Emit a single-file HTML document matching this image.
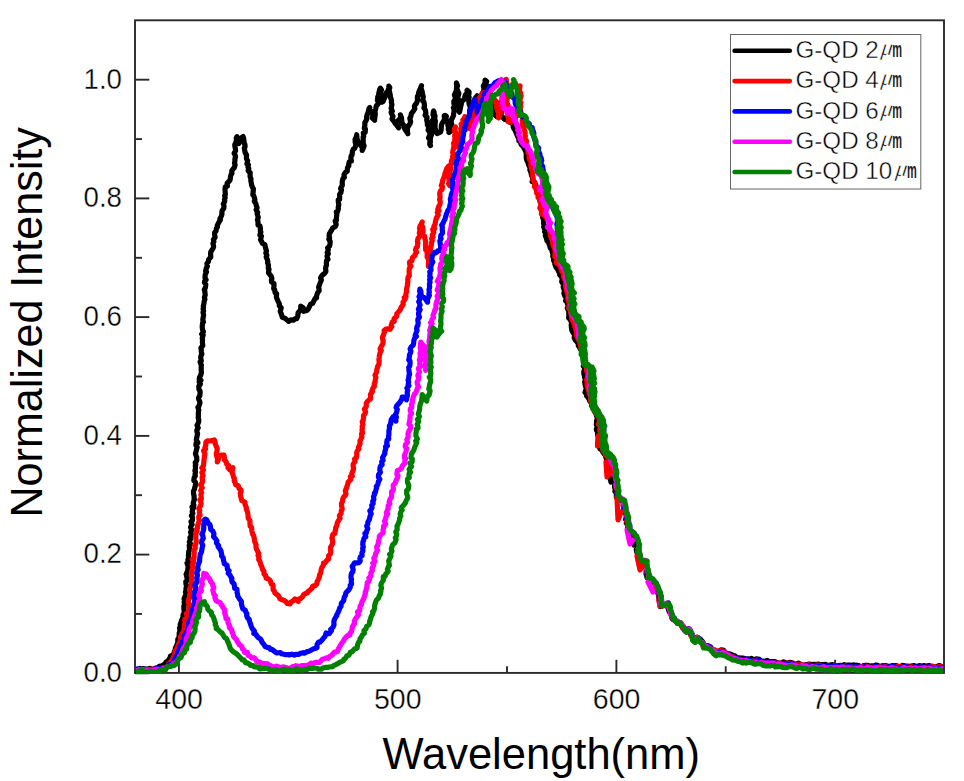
<!DOCTYPE html>
<html><head><meta charset="utf-8"><style>
html,body{margin:0;padding:0;background:#fff;}
svg{display:block;font-family:"Liberation Sans",sans-serif;}
</style></head><body>
<svg width="964" height="781" viewBox="0 0 964 781">
<rect width="964" height="781" fill="#fff"/>
<rect x="135" y="20.3" width="809" height="652.6" fill="none" stroke="#2a2a2a" stroke-width="1.9"/>
<line x1="135" y1="673.3" x2="149.3" y2="673.3" stroke="#2a2a2a" stroke-width="1.9"/>
<line x1="135" y1="554.6" x2="149.3" y2="554.6" stroke="#2a2a2a" stroke-width="1.9"/>
<line x1="135" y1="435.9" x2="149.3" y2="435.9" stroke="#2a2a2a" stroke-width="1.9"/>
<line x1="135" y1="317.1" x2="149.3" y2="317.1" stroke="#2a2a2a" stroke-width="1.9"/>
<line x1="135" y1="198.4" x2="149.3" y2="198.4" stroke="#2a2a2a" stroke-width="1.9"/>
<line x1="135" y1="79.7" x2="149.3" y2="79.7" stroke="#2a2a2a" stroke-width="1.9"/>
<line x1="135" y1="613.9" x2="142" y2="613.9" stroke="#2a2a2a" stroke-width="1.9"/>
<line x1="135" y1="495.2" x2="142" y2="495.2" stroke="#2a2a2a" stroke-width="1.9"/>
<line x1="135" y1="376.5" x2="142" y2="376.5" stroke="#2a2a2a" stroke-width="1.9"/>
<line x1="135" y1="257.8" x2="142" y2="257.8" stroke="#2a2a2a" stroke-width="1.9"/>
<line x1="135" y1="139.1" x2="142" y2="139.1" stroke="#2a2a2a" stroke-width="1.9"/>
<line x1="178.9" y1="672.9" x2="178.9" y2="659.8" stroke="#2a2a2a" stroke-width="1.9"/>
<line x1="397.6" y1="672.9" x2="397.6" y2="659.8" stroke="#2a2a2a" stroke-width="1.9"/>
<line x1="616.4" y1="672.9" x2="616.4" y2="659.8" stroke="#2a2a2a" stroke-width="1.9"/>
<line x1="835.1" y1="672.9" x2="835.1" y2="659.8" stroke="#2a2a2a" stroke-width="1.9"/>
<line x1="288.3" y1="672.9" x2="288.3" y2="666.3" stroke="#2a2a2a" stroke-width="1.9"/>
<line x1="507.0" y1="672.9" x2="507.0" y2="666.3" stroke="#2a2a2a" stroke-width="1.9"/>
<line x1="725.7" y1="672.9" x2="725.7" y2="666.3" stroke="#2a2a2a" stroke-width="1.9"/>
<clipPath id="pc"><rect x="136" y="15" width="807" height="659"/></clipPath>
<g clip-path="url(#pc)">
<polyline points="134.5,669.7 136.8,669.7 139.4,668.5 140.3,670.0 142.9,668.7 146.4,669.1 148.2,669.0 149.9,668.3 152.0,669.6 153.9,669.3 156.3,667.8 158.5,668.8 159.3,666.2 162.1,665.7 163.4,665.1 165.1,663.7 166.1,662.0 167.9,660.9 170.3,657.5 170.3,656.1 173.4,654.9 174.2,652.1 175.3,649.7 175.4,648.0 176.3,646.6 177.0,644.6 177.8,642.7 177.8,639.0 178.6,638.6 179.2,635.8 179.2,633.0 180.0,631.3 179.5,627.9 181.2,627.4 180.2,624.6 181.3,621.3 181.5,620.5 183.1,617.0 183.0,615.0 183.7,613.5 184.5,612.8 184.0,610.4 183.8,606.2 184.6,603.8 184.1,602.2 185.1,599.3 184.1,598.7 184.8,596.9 186.2,593.8 185.5,592.0 186.0,590.2 186.0,588.2 186.9,586.0 186.0,584.4 185.8,581.6 187.5,580.0 186.8,577.0 186.7,576.2 186.1,574.2 187.5,571.1 187.7,569.9 188.0,567.7 188.2,566.5 187.0,563.1 188.5,562.9 187.9,559.9 188.7,557.6 188.4,555.6 188.6,554.2 188.7,551.8 189.8,549.1 189.5,548.5 189.2,545.4 190.4,543.5 189.3,541.9 190.5,539.2 189.9,537.7 191.1,535.9 191.3,533.3 190.5,532.3 191.7,529.9 190.6,527.2 191.4,525.4 192.1,524.7 191.0,521.6 192.4,520.3 192.6,517.7 191.4,515.6 192.9,513.5 192.2,511.8 192.5,509.8 193.7,507.3 192.0,506.9 193.9,505.0 193.2,502.9 194.4,499.4 194.1,498.7 194.1,496.0 193.5,493.7 193.5,491.1 194.3,489.6 194.9,487.1 195.2,486.4 195.4,484.8 195.4,482.2 193.8,480.5 194.2,477.6 195.3,476.0 195.0,474.9 195.5,471.7 194.9,470.7 195.5,468.6 195.3,465.4 195.8,464.6 195.2,462.6 196.8,460.6 196.7,457.0 196.4,456.7 195.4,453.5 196.0,452.1 196.4,449.9 197.2,447.0 195.9,445.3 196.1,443.1 197.9,442.7 196.3,440.0 196.8,437.6 197.0,436.3 197.6,433.7 196.9,431.7 196.9,430.1 198.2,427.8 197.0,425.4 197.7,424.2 198.7,421.7 198.8,420.1 198.2,417.6 198.4,416.2 198.3,414.1 198.5,411.2 198.8,410.0 197.9,407.4 198.8,406.3 199.9,403.2 199.9,402.0 198.7,399.3 198.5,397.9 199.7,396.0 200.1,393.5 200.1,391.2 198.9,389.2 198.8,386.3 200.4,384.0 199.2,382.1 200.9,380.2 199.2,379.5 199.5,377.4 200.7,375.3 201.4,372.8 201.2,369.6 201.2,368.5 201.2,365.7 201.4,365.3 200.1,362.0 201.3,360.9 200.7,357.6 200.8,356.4 201.9,353.9 201.3,351.9 201.3,349.9 200.9,348.0 202.8,345.7 202.5,343.2 202.4,342.3 202.5,339.8 202.2,338.0 203.2,335.0 201.7,334.1 203.4,331.6 202.6,329.9 202.2,327.0 202.3,325.6 202.6,322.8 203.5,322.2 202.8,319.7 203.1,318.0 203.6,314.8 203.0,312.3 203.6,311.0 203.1,308.9 203.5,307.8 203.3,306.2 204.0,303.4 204.1,301.8 204.9,299.3 204.4,297.6 205.2,294.9 205.1,294.0 204.7,290.6 204.3,289.5 205.3,288.0 205.8,284.5 204.5,282.6 204.6,281.4 206.1,279.8 205.0,277.7 205.2,274.8 206.5,271.9 205.6,271.2 206.4,268.0 207.4,266.4 206.9,263.5 208.4,261.6 208.6,259.6 210.8,257.0 210.6,254.2 210.6,253.4 210.8,251.9 213.0,248.3 213.6,246.9 213.5,245.7 212.9,243.4 213.9,241.6 213.4,239.5 215.1,237.3 214.5,234.1 214.7,232.5 216.0,231.1 216.5,228.1 217.5,226.9 217.3,225.4 219.1,221.8 220.4,219.8 219.9,218.9 221.1,216.6 221.9,214.3 221.9,211.7 222.1,210.7 223.8,208.3 224.0,205.9 223.3,203.9 224.8,201.2 224.4,199.5 225.2,197.7 224.6,195.7 225.3,194.4 225.2,192.5 225.0,189.3 225.2,186.9 227.4,186.1 227.1,183.0 228.4,182.0 230.1,180.0 230.5,176.7 231.0,174.8 231.9,173.5 231.8,170.8 233.6,168.3 234.2,167.9 235.1,164.9 234.5,163.2 234.8,162.0 235.0,158.5 235.5,156.9 235.2,155.3 234.1,153.3 235.6,150.7 235.4,148.6 234.9,146.7 234.8,144.6 236.1,142.4 236.1,141.4 236.9,137.7 236.9,136.6 236.2,138.2 237.4,139.7 238.8,143.5 239.6,141.3 241.6,137.7 243.1,136.6 243.7,138.9 243.8,140.2 244.3,143.4 244.9,144.5 245.1,146.7 244.3,147.8 244.7,150.2 245.2,152.8 246.6,155.0 246.4,157.2 246.5,158.9 247.7,160.8 246.9,163.9 248.4,164.8 248.0,167.2 248.8,168.6 248.1,170.7 250.2,172.6 250.1,174.7 250.1,176.7 251.0,178.8 250.8,180.7 251.4,183.5 251.5,184.7 252.6,187.5 253.4,188.8 253.2,191.6 252.8,194.8 253.5,195.1 254.3,197.3 254.9,199.7 254.3,201.2 255.9,203.7 256.4,206.1 257.1,207.8 256.1,209.8 257.7,212.6 257.1,213.5 258.2,217.3 258.3,217.5 257.4,219.7 258.0,221.6 258.0,224.9 260.0,226.1 260.4,228.7 260.4,231.6 260.9,231.9 259.9,235.1 261.5,236.1 260.5,239.7 261.2,240.8 262.6,243.5 264.8,244.5 265.5,247.7 266.0,249.4 266.5,251.1 265.8,252.9 266.9,255.4 266.2,256.9 267.4,259.8 267.8,261.4 267.6,263.0 268.4,264.8 268.3,268.4 269.0,269.1 268.5,272.7 270.0,274.8 271.1,276.0 271.9,278.6 271.4,280.0 271.6,282.1 274.0,283.5 274.0,285.6 273.7,288.7 274.7,289.6 275.1,292.8 276.6,293.5 276.4,297.5 277.0,298.7 278.0,301.1 279.0,303.1 279.4,303.9 279.3,305.7 281.2,307.8 280.2,311.5 281.1,313.4 281.5,314.5 282.3,317.3 285.2,318.4 287.5,320.4 288.7,321.4 290.8,319.8 293.5,320.1 295.4,318.7 296.8,318.6 297.9,315.8 297.9,314.6 298.1,312.7 300.2,310.4 300.8,308.7 300.7,306.2 303.3,308.0 303.2,309.3 303.8,311.3 306.8,310.5 308.2,309.1 309.2,307.1 310.6,304.1 312.7,303.3 314.0,300.7 314.9,298.7 316.6,297.9 316.5,296.2 317.6,292.7 319.1,290.9 319.1,289.4 318.6,287.4 319.5,284.6 320.1,283.1 321.4,280.0 320.5,277.8 322.0,275.5 322.4,275.0 324.5,273.6 325.9,271.6 325.6,268.3 325.8,266.9 326.5,265.0 326.4,263.6 326.5,260.7 328.0,259.4 327.0,256.2 328.3,253.7 327.2,252.7 328.3,249.9 327.6,247.9 329.3,246.4 329.9,245.0 330.2,241.4 328.8,239.3 329.6,237.9 329.1,236.3 329.4,233.8 330.0,232.7 331.9,229.6 332.7,227.9 335.4,226.4 336.2,224.5 335.2,221.0 336.5,220.1 336.4,218.1 336.8,214.8 336.3,212.1 337.6,211.7 338.4,208.7 338.2,207.5 338.8,204.7 338.4,202.5 338.2,199.9 339.6,199.5 339.7,196.3 339.6,194.5 340.9,192.5 341.5,189.9 340.6,188.6 341.1,187.3 342.3,185.4 342.2,181.7 342.4,180.7 343.1,178.1 344.4,177.3 344.0,174.8 345.3,172.5 347.2,171.3 347.5,167.7 348.9,165.6 348.6,164.9 349.3,161.7 351.4,161.0 350.8,157.9 351.4,155.3 352.1,155.0 352.4,151.4 353.3,149.1 354.7,148.4 355.6,146.1 355.9,142.8 355.2,142.7 355.1,139.2 356.2,137.2 356.7,134.7 357.0,138.6 357.7,140.5 358.6,142.7 360.5,144.1 360.3,144.9 362.4,147.2 362.2,150.5 363.7,146.9 364.1,145.9 363.1,143.0 363.2,142.7 363.2,138.9 363.1,136.9 363.7,136.4 363.3,132.9 365.2,132.4 365.4,128.9 364.3,128.3 364.8,125.7 364.9,122.3 365.4,121.7 366.7,119.3 366.6,117.2 367.0,115.1 368.2,112.4 368.2,111.9 369.1,108.3 369.8,107.6 369.1,108.5 370.0,110.1 372.4,112.9 373.0,114.3 372.2,117.9 374.6,120.2 374.8,117.3 375.3,114.4 375.2,113.1 374.8,111.5 375.6,109.3 376.1,106.9 376.4,105.5 378.1,104.2 378.2,102.0 377.4,100.3 377.8,96.6 378.7,95.8 378.7,93.7 379.0,92.3 379.7,89.3 380.3,88.1 381.5,89.7 380.7,92.0 380.2,93.9 382.0,96.8 380.7,99.1 381.7,101.6 381.9,102.2 383.2,101.5 383.9,99.4 385.3,96.4 385.4,94.6 386.5,92.3 387.9,91.3 388.7,87.7 388.8,86.1 389.8,87.7 389.0,90.1 389.5,91.6 390.3,95.4 390.4,97.1 391.2,99.4 391.6,100.6 391.3,102.0 391.9,104.6 391.3,107.7 391.1,108.3 392.4,111.2 391.1,112.1 391.8,114.1 393.0,116.5 392.0,119.0 393.8,121.1 395.3,123.6 396.2,124.5 398.6,127.8 397.3,125.2 399.1,124.3 398.3,120.3 399.6,119.0 401.0,117.8 400.4,114.9 401.5,117.9 401.5,119.0 401.9,121.5 402.5,124.1 404.1,125.5 403.9,126.8 405.4,130.1 406.2,131.0 407.8,133.8 407.4,130.9 407.4,130.2 407.6,127.4 409.1,125.0 409.9,124.1 410.6,121.7 409.8,118.3 410.8,116.7 410.9,115.8 411.4,113.6 413.9,110.2 414.8,108.7 414.4,106.2 415.1,104.8 416.3,103.6 417.7,100.0 417.4,98.8 417.4,96.5 418.1,95.5 418.8,92.4 419.1,91.1 420.3,88.8 421.1,86.8 421.5,85.6 420.9,88.1 421.6,89.8 422.3,92.1 422.3,93.1 423.3,96.9 423.0,98.5 422.8,101.2 424.0,102.0 424.5,105.7 423.9,107.9 424.6,108.3 425.5,110.7 425.9,113.2 425.1,115.2 427.0,117.1 426.7,119.9 427.0,121.2 427.6,123.9 427.3,124.5 428.8,127.5 428.1,130.2 429.5,131.6 430.0,134.2 429.7,135.2 428.5,138.0 430.2,139.4 429.9,141.8 429.7,144.2 430.5,145.6 429.8,143.9 430.4,142.2 430.3,139.4 430.5,137.4 431.5,134.8 430.6,133.5 431.1,131.5 431.2,128.6 432.1,128.2 433.0,125.4 432.2,122.4 432.1,120.9 433.7,118.4 433.8,117.1 433.0,114.6 434.2,112.4 433.6,111.0 433.2,112.5 435.0,115.7 434.8,117.9 433.8,119.6 435.4,120.7 435.1,124.2 435.1,125.8 435.0,127.7 435.5,129.4 436.0,132.2 437.0,133.5 440.4,132.1 441.2,129.8 441.2,128.5 441.4,125.5 441.6,124.7 442.2,123.0 443.3,121.5 444.6,119.1 444.2,115.8 445.1,115.3 446.4,116.3 445.4,119.9 447.1,121.0 447.7,122.4 447.9,125.5 448.5,126.5 448.2,129.5 450.2,130.6 449.0,132.6 450.9,131.0 450.6,130.1 451.2,126.5 451.7,123.8 451.2,123.1 451.4,119.6 452.4,118.0 453.6,115.4 453.6,113.9 454.0,111.8 454.0,109.5 453.4,107.7 454.8,105.5 453.9,103.6 453.8,101.4 455.0,99.9 455.3,97.3 454.4,94.8 455.3,93.1 456.0,91.3 456.6,89.9 456.6,88.2 456.6,85.6 456.4,82.8 457.6,85.7 456.4,88.6 457.6,90.1 457.6,91.1 458.9,93.3 457.9,97.0 457.6,98.0 458.5,99.5 459.6,101.9 458.0,104.1 458.2,106.6 460.2,109.0 458.8,110.6 459.5,112.2 460.0,109.9 460.2,108.5 460.6,107.1 461.1,105.0 461.9,101.2 463.5,100.1 464.5,98.0 465.3,95.1 466.3,94.0 467.9,90.9 467.1,90.3 469.1,91.8 468.9,94.1 468.5,95.9 469.1,97.1 468.7,100.6 468.9,102.1 469.1,103.9 470.1,106.7 471.0,108.2 469.7,109.9 469.6,111.8 471.4,110.5 471.5,107.6 472.0,105.6 473.6,103.7 475.1,102.3 474.8,100.0 475.0,98.6 477.2,95.8 478.0,97.6 477.8,99.5 478.6,102.2 480.3,104.5 479.7,102.5 480.9,99.6 481.4,97.7 481.2,95.6 482.5,94.1 483.5,91.0 483.9,90.2 484.0,88.5 483.3,86.0 485.3,82.7 485.1,82.3 485.0,80.0 486.6,81.5 485.5,83.5 487.2,86.2 486.6,88.6 488.2,90.6 486.9,94.1 488.1,95.1 490.0,97.0 488.8,100.3 489.7,101.1 491.7,103.2 492.2,105.6 491.6,107.4 492.9,110.0 493.4,111.7 494.0,114.3 496.1,115.9 496.6,116.4 496.3,114.4 496.8,113.6 499.1,111.2 499.1,107.2 499.7,109.1 501.4,111.5 501.0,114.9 501.6,116.8 503.4,117.7 504.5,119.5 506.6,119.7 508.7,121.5 509.4,121.9 511.6,123.0 513.7,125.0 513.2,126.8 513.9,128.6 515.5,130.7 515.9,132.3 517.1,135.1 517.8,136.9 518.7,137.5 518.9,140.8 520.3,141.7 521.2,144.5 522.2,145.6 523.3,146.9 524.9,149.9 526.0,151.9 526.3,154.4 526.2,157.0 526.4,158.7 527.0,160.6 527.5,161.2 528.6,164.8 529.7,167.0 530.5,167.5 529.8,169.7 531.0,172.5 531.5,175.3 532.5,177.2 532.8,179.1 532.1,181.6 533.1,181.9 535.5,184.1 536.1,185.5 536.1,188.7 536.7,190.2 539.5,191.4 539.4,194.6 539.6,196.7 540.2,197.3 539.6,200.4 541.5,201.9 541.2,203.8 542.1,206.5 541.8,209.0 541.5,211.2 543.2,213.6 542.6,214.4 542.7,217.8 543.4,218.9 543.7,221.7 543.5,223.1 544.5,226.1 543.7,226.9 545.1,230.3 544.6,231.8 546.1,233.9 545.3,235.2 546.3,238.2 547.1,240.9 548.4,241.9 549.1,244.2 549.8,246.0 550.3,248.0 551.7,249.4 552.2,251.8 552.9,253.5 552.8,256.5 553.8,258.2 553.5,260.3 555.1,263.2 554.9,264.4 556.3,267.9 557.7,269.1 558.4,271.3 560.4,273.3 559.7,274.9 561.2,276.2 562.2,278.9 561.7,281.6 562.8,283.5 563.8,285.7 563.2,286.9 564.1,289.6 564.6,291.7 563.9,293.2 564.6,295.4 566.4,298.4 565.6,300.8 566.8,301.6 567.5,304.0 568.4,305.9 567.3,308.2 568.9,311.5 568.7,312.2 568.9,315.4 568.6,317.9 570.7,320.0 571.0,321.5 572.0,322.9 571.2,324.7 571.5,328.1 571.8,330.1 572.9,332.5 574.2,334.2 574.9,335.0 574.2,337.7 575.5,340.2 577.4,342.3 578.5,344.1 578.3,345.6 580.0,348.1 580.2,349.0 581.7,350.7 583.2,352.1 583.7,355.0 582.9,357.2 583.6,360.0 584.5,361.3 584.6,364.0 583.3,365.9 584.8,368.3 584.8,369.2 583.8,371.8 583.9,374.0 584.8,376.2 584.5,377.2 585.7,380.0 584.7,381.8 585.0,384.1 585.3,385.4 586.3,388.7 586.0,389.5 585.0,392.5 587.1,394.2 586.7,396.1 588.1,397.3 589.1,399.3 590.1,401.7 591.6,402.3 591.6,405.8 592.6,406.9 593.8,407.7 594.5,410.7 594.9,411.9 595.8,413.4 596.5,415.5 597.4,418.6 596.6,420.6 596.6,422.1 596.3,424.8 597.7,426.7 596.4,428.8 596.5,430.4 597.5,431.4 597.6,435.1 598.1,436.0 598.6,438.1 599.0,440.2 597.5,443.4 597.6,444.0 599.1,445.7 599.9,448.8 601.2,449.4 602.8,451.9 603.7,453.1 604.4,454.2 607.0,456.9 605.9,457.4 607.2,460.6 608.0,461.3 610.0,463.3 611.2,465.9 611.9,468.6 611.4,470.6 612.2,471.5 611.9,474.6 613.3,475.9 614.2,477.8 613.9,479.7 614.1,483.4 614.7,484.0 614.6,487.1 615.1,489.7 615.0,491.7 616.6,493.7 616.4,494.3 616.4,497.6 618.7,498.2 622.7,501.4 623.3,503.3 623.1,505.4 623.8,506.7 623.7,507.6 623.5,510.1 624.7,511.8 626.2,514.8 626.2,517.4 625.6,519.4 627.5,520.1 626.3,523.2 628.2,525.2 627.7,526.8 627.6,528.1 628.6,531.1 629.6,533.1 631.2,534.8 633.2,536.2 636.0,538.1 635.6,539.7 635.6,542.1 635.5,544.3 636.8,544.8 637.8,547.4 636.3,549.4 636.6,551.6 638.2,555.1 638.4,557.0 639.0,558.8 638.5,560.0 640.8,560.7 643.7,561.3 644.3,563.0 645.0,565.2 644.6,566.5 646.0,568.4 646.3,572.0 646.0,574.0 646.8,576.0 647.0,577.7 649.1,578.0 650.5,580.3 652.2,581.9 654.9,583.6 655.6,584.3 656.2,587.3 657.6,588.0 656.9,592.0 658.1,593.4 658.8,594.9 658.8,597.4 660.1,599.5 659.9,601.2 660.0,603.9 660.3,606.6 661.4,606.2 664.9,604.1 667.1,603.2 667.2,606.7 668.8,608.7 668.3,609.1 669.3,611.9 670.5,613.4 671.7,615.8 671.9,617.9 672.6,619.2 673.9,619.9 676.4,621.7 678.6,622.3 681.2,623.9 680.7,624.1 683.4,626.6 682.8,627.9 685.1,629.6 686.6,629.7 688.8,628.9 690.7,631.0 690.8,632.6 690.9,634.5 692.3,636.2 692.7,638.4 692.9,640.2 696.6,637.3 697.4,637.6 698.2,639.0 700.4,639.1 701.7,640.6 703.3,642.9 704.6,645.7 706.0,645.3 708.9,646.6 710.7,647.0 712.7,650.4 714.9,651.1 717.3,651.0 719.2,651.2 721.0,649.8 723.8,650.4 724.2,652.6 726.3,653.8 729.1,653.8 730.4,654.0 733.6,655.5 734.8,655.7 736.8,657.8 738.8,657.9 741.8,658.1 743.6,658.0 745.1,659.1 748.5,658.8 749.3,659.7 751.2,658.4 754.2,660.0 756.3,658.9 759.4,659.3 760.3,661.3 763.5,661.2 764.3,661.8 767.2,660.4 770.2,662.4 771.0,661.6 775.0,661.5 776.0,662.6 778.5,663.1 781.6,663.0 783.6,661.9 785.8,662.8 787.6,663.0 789.5,662.4 793.0,663.0 793.6,664.4 796.7,664.0 798.6,663.1 800.8,664.7 802.9,665.0 805.3,665.2 807.3,664.5 809.2,664.0 812.0,664.5 814.0,664.3 815.6,664.5 818.7,664.1 819.8,665.7 822.1,664.6 825.0,664.4 825.3,664.3 827.9,666.0 829.6,665.0 832.6,664.6 833.0,665.8 835.2,665.5 837.3,665.7 840.7,665.4 841.5,665.8 844.4,664.7 845.5,665.4 848.0,665.2 850.3,665.2 852.8,665.4 853.4,664.9 855.3,665.2 858.8,665.6 859.9,666.7 862.9,666.3 863.5,665.5 866.0,665.4 867.7,665.3 869.5,666.4 872.2,665.8 873.9,666.1 876.4,665.0 878.7,665.9 879.7,666.9 882.5,665.7 883.0,665.9 885.9,665.7 887.2,666.2 889.5,666.5 892.1,665.6 894.7,665.9 895.2,665.6 897.1,665.9 900.8,666.9 902.3,665.4 903.5,665.5 905.7,666.4 907.0,666.1 909.9,666.4 912.7,665.9 914.2,665.7 915.9,666.4 917.1,666.2 920.0,665.5 921.5,666.8 923.7,665.6 925.6,666.2 927.8,665.9 929.6,665.7 932.0,666.4 933.2,666.4 935.6,667.2 938.9,665.5 940.4,666.0 941.2,667.0 944.8,666.9" fill="none" stroke="#000000" stroke-width="5.2" stroke-linejoin="round" stroke-linecap="round"/>
<polyline points="135.3,671.0 137.1,670.3 139.3,670.7 141.8,669.5 142.5,670.0 145.3,669.6 147.8,670.5 149.5,669.9 151.5,669.2 153.8,669.0 156.0,670.0 156.7,669.1 159.4,669.6 161.4,668.1 163.6,668.0 164.6,667.8 166.8,666.4 168.0,665.6 168.8,663.3 171.8,661.1 171.7,660.7 173.1,657.8 174.4,655.9 174.8,653.8 175.0,651.7 176.5,649.3 177.3,647.5 178.3,645.2 178.8,643.8 180.4,640.6 181.0,640.2 180.6,636.8 182.7,636.4 181.8,634.2 183.8,631.1 184.0,629.2 184.4,627.7 184.3,624.9 185.1,624.1 184.8,620.8 184.9,619.2 187.1,618.2 187.4,616.3 186.3,613.6 188.4,612.5 188.9,610.1 188.7,607.6 189.5,604.6 188.2,602.0 188.5,599.5 189.9,597.6 189.4,595.2 189.8,594.0 190.4,592.9 189.5,589.5 189.7,588.9 191.0,586.3 191.6,583.0 191.9,581.7 191.6,579.8 192.0,577.6 191.2,575.5 192.2,573.9 191.3,571.7 192.2,569.7 192.5,568.7 192.7,566.6 192.2,564.7 193.7,562.1 192.2,559.2 193.9,558.7 194.1,556.0 194.0,553.2 194.3,553.0 193.8,550.2 195.4,548.3 194.6,545.5 195.6,544.9 196.2,541.8 196.2,540.6 195.7,538.5 196.0,535.4 195.4,534.4 197.2,531.1 196.6,529.3 197.6,527.8 197.7,525.4 198.6,522.8 199.4,520.9 198.9,519.3 198.8,516.3 200.1,515.3 199.4,512.7 199.7,510.2 198.8,508.7 200.6,505.7 200.9,504.2 201.1,502.9 199.9,499.7 201.3,499.1 201.2,496.2 200.9,494.6 201.6,492.5 200.7,490.4 202.2,487.7 200.5,484.8 201.9,483.2 202.6,481.5 202.3,478.4 202.1,477.4 203.1,475.6 201.9,472.7 203.5,469.7 201.8,467.8 203.4,465.9 203.5,464.8 204.0,461.1 203.9,460.5 204.2,458.5 204.6,455.8 204.9,453.6 203.6,450.9 205.5,448.9 205.0,447.6 205.8,445.1 205.8,442.2 207.3,440.9 209.7,441.0 214.3,440.0 215.1,442.0 215.2,443.8 216.1,445.9 217.2,448.4 217.1,450.6 216.3,453.5 216.4,454.9 217.3,457.9 217.6,458.0 217.3,461.9 218.7,458.7 217.8,456.5 221.1,455.0 224.0,455.1 224.4,458.1 224.4,459.9 226.0,461.5 226.7,464.2 228.6,465.4 228.0,467.8 229.8,469.7 232.9,467.8 232.4,470.4 232.0,472.4 232.8,474.3 233.7,477.5 234.3,478.0 234.2,481.2 234.7,481.2 235.7,484.7 238.2,485.6 239.0,488.4 241.0,490.0 241.1,491.8 240.2,493.1 240.4,495.1 240.8,496.9 241.8,500.5 245.0,502.3 245.0,504.2 246.3,507.4 246.3,508.9 247.3,511.6 247.5,511.9 248.1,515.7 248.1,517.3 248.5,518.7 249.9,520.5 250.0,523.7 250.2,526.2 251.6,527.4 251.8,530.5 252.2,532.2 252.8,534.6 253.7,535.7 254.3,538.7 254.6,541.1 255.0,542.4 256.1,544.6 255.9,546.8 256.3,548.6 257.4,551.0 258.8,553.6 258.0,555.5 259.0,556.7 258.7,559.5 259.5,560.4 260.2,562.4 260.8,564.6 261.9,566.9 262.9,570.2 263.9,571.2 264.0,574.1 265.6,575.3 266.1,578.0 268.6,579.1 270.1,580.4 271.4,584.1 272.8,584.6 273.2,588.0 273.1,589.7 274.3,591.0 275.0,593.2 278.1,595.3 279.6,597.6 279.9,598.9 282.9,600.0 283.7,600.2 285.8,601.7 287.3,603.5 290.0,603.8 290.7,602.3 293.4,600.6 294.9,599.0 296.7,599.6 298.2,601.5 298.9,599.0 300.5,598.6 302.8,596.3 303.9,594.3 305.5,593.6 307.4,593.1 307.5,592.0 309.3,590.6 312.4,587.8 312.6,586.3 315.3,585.6 316.8,583.8 317.1,581.8 318.5,579.1 319.2,577.5 319.6,574.9 320.7,573.0 321.1,570.0 321.8,567.7 323.4,565.1 323.5,563.1 325.1,562.8 326.7,560.5 328.6,558.9 328.6,555.8 330.4,553.9 330.8,551.4 330.6,550.5 330.6,547.1 331.9,545.0 332.5,543.7 332.7,541.4 332.2,538.6 331.9,538.1 332.9,534.4 335.0,533.4 334.9,532.3 335.8,529.0 335.6,527.9 337.1,525.1 337.1,523.8 337.5,522.4 339.4,519.2 340.1,518.2 339.4,515.6 341.1,513.4 341.3,510.7 342.2,509.3 341.6,505.8 341.5,503.5 342.3,501.9 342.6,500.3 343.0,498.3 344.3,496.1 345.1,495.8 346.0,493.9 345.3,490.9 346.1,489.1 347.1,486.2 348.2,482.7 348.1,482.1 350.8,479.5 350.4,476.7 352.3,476.1 351.7,474.0 352.9,470.7 353.1,470.6 353.6,468.4 353.1,465.8 353.2,464.1 355.1,461.3 354.6,458.8 356.1,458.2 356.7,456.1 356.7,452.8 357.3,450.8 358.9,448.9 358.4,447.5 359.2,445.9 360.1,443.7 360.0,440.8 360.5,439.9 361.9,437.0 361.5,434.0 362.6,433.0 362.0,430.1 362.3,429.1 362.2,426.2 362.9,424.6 362.2,421.7 363.1,420.9 363.5,417.5 363.5,415.8 364.9,413.8 365.6,411.8 364.4,409.2 365.4,408.2 366.3,406.4 366.2,403.2 367.4,401.5 369.1,399.8 370.5,398.8 370.6,395.9 370.5,394.5 372.4,391.5 371.9,390.7 373.3,387.5 374.3,386.6 374.3,383.7 375.2,381.9 375.1,380.9 375.9,377.3 375.0,375.3 375.4,374.6 376.7,371.7 376.8,369.7 377.3,368.1 377.7,366.3 378.9,364.3 379.2,360.8 378.9,360.1 379.2,357.5 379.3,356.0 380.0,353.0 381.3,350.4 380.1,349.1 381.3,346.4 381.6,345.7 382.9,343.9 383.1,340.2 382.6,338.9 382.3,337.5 383.2,335.5 384.4,332.4 384.1,330.7 385.8,329.1 388.3,328.9 390.0,329.3 391.8,326.5 391.2,325.1 392.5,321.8 394.3,321.4 394.1,318.6 396.7,316.5 396.8,313.7 397.5,313.1 400.3,309.7 401.0,307.6 402.3,305.9 403.2,304.2 403.0,302.2 405.2,299.1 404.3,297.5 406.0,296.9 405.8,294.6 406.6,291.4 406.4,290.5 406.8,287.8 407.6,285.0 407.4,283.7 407.9,281.9 407.7,279.3 408.4,276.5 409.3,276.0 409.2,272.8 409.1,270.7 409.4,268.2 410.9,266.2 409.7,264.7 409.6,261.9 411.9,260.9 412.5,257.5 415.0,255.4 415.0,254.5 416.6,252.2 415.5,250.0 416.1,247.8 417.5,246.5 417.6,244.0 417.9,243.2 417.4,241.3 417.9,238.8 419.6,236.3 419.9,234.2 419.3,233.2 420.1,229.5 419.5,228.4 420.3,225.4 421.6,224.0 422.2,222.0 421.2,224.2 422.8,227.2 422.7,227.9 423.0,230.0 423.0,231.5 422.7,235.4 424.6,236.1 424.7,237.7 425.5,240.9 425.7,242.6 425.5,245.4 425.6,246.0 425.6,249.7 426.2,250.0 427.1,252.2 427.2,255.6 427.1,256.9 428.9,259.9 429.1,260.3 429.6,263.4 428.3,266.3 428.5,264.2 428.6,260.4 429.7,259.4 430.2,257.7 429.5,255.5 430.2,253.9 431.0,251.3 430.3,249.7 430.9,246.3 431.4,245.4 431.5,242.7 432.3,240.2 431.6,238.5 433.0,237.0 432.3,234.9 433.8,232.9 432.7,229.5 434.6,228.8 433.8,226.7 435.1,224.3 435.3,222.2 436.0,219.4 436.5,217.9 438.3,214.9 437.3,212.6 439.0,210.8 437.7,209.7 438.8,206.2 439.7,205.0 440.1,203.7 440.3,201.7 439.6,199.6 440.1,197.2 439.8,195.2 439.7,193.6 440.3,191.0 442.1,189.5 442.5,186.6 441.3,185.7 442.1,183.4 442.7,180.5 443.4,178.6 444.3,176.7 445.0,173.3 445.7,171.7 446.7,168.5 448.4,166.3 449.1,169.4 448.1,170.9 449.0,173.3 448.9,175.1 448.8,177.8 449.6,179.6 449.5,181.5 448.6,183.8 450.0,185.7 448.9,184.4 449.9,182.7 448.9,180.1 450.2,177.5 449.2,176.8 449.2,173.3 449.7,172.7 450.2,169.9 451.0,168.6 450.4,165.1 451.5,163.9 451.3,161.3 452.6,158.4 452.5,156.3 454.0,154.0 452.7,152.9 453.0,150.5 453.4,149.0 454.1,145.3 453.5,143.3 454.7,141.7 454.7,139.3 455.3,137.1 454.6,136.2 455.2,133.2 455.3,131.8 454.4,129.0 455.4,126.9 454.7,129.4 454.3,130.9 456.2,132.9 456.0,134.5 455.1,137.6 455.2,140.6 456.6,141.4 455.1,144.7 456.5,146.0 455.1,147.0 458.4,146.4 458.3,143.6 458.4,141.5 459.0,139.9 459.4,137.3 459.4,135.8 461.3,132.8 461.3,131.6 460.7,128.5 462.3,126.4 461.2,124.2 463.5,122.5 462.8,120.1 464.7,118.2 464.8,116.7 466.5,117.5 466.4,119.4 466.4,122.1 467.6,124.2 469.3,125.4 468.8,127.5 469.9,128.8 470.3,127.2 470.3,126.2 472.0,123.4 471.4,121.8 472.6,120.0 473.7,116.6 474.5,115.2 474.3,113.4 474.8,110.0 474.8,108.8 475.8,105.7 476.0,104.8 477.0,102.9 478.8,100.6 478.5,99.0 480.4,96.9 482.0,93.9 482.1,93.2 483.8,92.5 485.2,94.3 487.7,96.0 489.0,95.8 492.4,97.9 494.7,99.7 496.7,102.0 497.0,103.3 496.4,105.2 496.4,106.7 497.3,109.1 497.3,110.4 498.8,112.9 498.1,115.0 498.6,117.9 499.8,115.5 500.2,113.0 499.7,110.9 501.1,108.4 500.0,107.7 500.4,104.3 501.1,103.0 501.7,100.5 501.9,98.6 501.9,97.0 502.5,94.4 504.3,93.6 503.6,90.7 503.5,87.6 504.7,87.3 504.3,84.1 506.2,81.1 506.2,79.4 506.6,82.6 507.0,84.5 505.5,86.3 506.6,87.6 506.0,89.9 506.6,91.8 507.7,93.5 507.7,95.3 507.5,97.9 507.0,100.0 506.6,101.5 507.3,103.5 508.2,106.5 507.9,108.5 507.1,109.1 507.1,112.9 508.0,115.1 507.8,115.9 508.6,118.9 508.2,120.2 508.2,121.7 511.4,122.2 512.5,119.9 515.4,119.7 515.5,117.7 514.4,116.3 514.8,114.7 515.2,111.6 515.2,109.3 516.8,107.1 516.0,105.0 516.1,104.0 516.8,102.5 518.0,100.0 518.8,98.9 517.8,96.6 518.9,93.4 519.4,91.1 519.5,90.9 519.7,88.5 520.0,85.9 519.0,88.0 519.5,91.0 520.8,93.5 519.8,95.5 521.1,95.9 520.4,98.2 519.6,101.1 521.0,102.7 520.3,105.5 520.9,106.9 520.2,108.8 520.9,112.8 520.9,114.4 522.1,116.6 522.8,117.0 522.1,120.6 523.1,122.7 522.2,124.7 523.2,126.6 523.9,127.7 524.1,129.1 525.2,132.8 524.9,134.4 525.4,136.0 524.8,138.4 526.6,140.9 526.5,141.5 526.0,143.8 527.0,147.0 527.7,148.4 527.8,149.6 528.0,153.2 529.8,154.5 529.8,155.7 529.0,157.2 529.5,159.6 532.0,162.4 530.9,163.4 530.8,165.3 531.4,168.0 531.7,169.8 533.0,171.7 532.3,175.0 532.9,176.8 533.2,178.9 532.9,180.1 534.9,182.2 534.8,184.1 534.4,186.6 535.7,187.9 536.5,190.7 536.8,193.4 538.5,194.8 538.0,197.5 539.6,199.1 539.9,200.8 540.5,203.3 541.1,204.8 539.8,208.0 541.2,209.9 541.9,211.9 541.4,214.1 543.7,214.9 544.5,215.9 546.3,218.0 548.2,220.2 549.7,223.1 549.3,225.0 549.5,229.1 549.9,231.7 550.4,235.0 551.5,237.9 552.5,241.7 552.7,244.0 553.9,247.0 555.3,250.9 555.0,253.4 554.8,256.8 556.5,258.1 556.3,262.7 559.7,265.2 560.6,267.5 561.9,271.8 563.4,273.1 563.3,276.2 565.3,280.7 566.0,282.9 565.5,285.1 566.0,288.7 566.9,291.7 568.1,295.7 567.8,298.6 568.1,300.5 569.6,303.2 568.6,308.0 569.9,309.8 571.1,313.8 571.4,316.6 572.0,319.8 573.7,321.8 574.0,324.1 575.3,327.2 576.4,332.0 576.2,334.5 577.4,337.2 578.7,340.0 580.0,342.3 580.8,346.1 581.0,348.5 583.6,352.3 583.8,355.0 584.7,358.3 583.6,361.9 585.0,364.6 586.6,367.3 586.6,371.0 587.5,372.3 587.9,375.9 586.6,379.8 587.1,381.8 587.0,385.0 588.0,388.6 589.0,391.8 589.2,393.8 590.7,396.5 590.5,400.1 591.6,403.1 592.0,405.5 593.2,408.9 595.2,412.6 596.8,414.4 598.7,417.4 599.6,421.1 598.4,424.4 600.3,426.6 599.7,430.1 600.7,434.0 599.1,435.8 600.8,438.8 600.4,442.1 599.6,444.1 602.4,447.8 603.2,451.1 605.2,453.3 605.2,454.3 607.6,457.1 610.3,460.0 610.4,463.7 612.1,466.8 612.8,468.6 613.5,471.0 612.5,472.3 614.7,475.3 613.2,477.5 615.0,478.1 615.9,480.4 615.2,483.5 615.6,484.8 615.9,487.3 617.2,489.8 617.6,491.7 616.9,492.8 618.2,495.9 617.3,497.7 619.9,497.9 622.6,501.2 623.2,503.0 624.3,505.0 623.6,507.2 623.7,508.4 624.1,510.2 626.2,513.0 626.8,514.5 626.3,515.7 626.7,519.2 626.8,521.1 627.2,523.0 627.4,525.3 627.7,525.6 629.1,529.0 629.8,530.2 631.5,531.5 632.4,533.3 633.8,534.4 635.4,537.1 636.5,538.8 636.8,540.9 637.5,542.4 637.7,546.3 637.7,547.9 638.8,549.0 637.3,551.8 638.8,554.0 638.7,555.9 638.9,558.9 638.4,560.6 641.3,561.1 644.4,561.2 644.9,562.9 645.6,565.6 645.8,566.8 646.2,568.3 647.4,570.5 646.2,572.3 647.6,575.8 647.7,577.9 648.7,579.2 651.6,579.3 652.1,581.2 654.5,582.8 656.0,584.3 655.9,586.5 656.6,588.7 658.3,590.3 658.3,593.3 658.4,595.7 659.7,596.5 658.7,599.9 659.0,601.9 660.2,603.9 659.8,606.1 662.3,605.3 666.2,604.7 667.0,603.5 668.1,606.6 669.4,607.7 669.6,609.6 670.0,611.5 671.5,613.6 671.3,615.9 672.2,616.6 673.8,619.8 674.7,620.5 676.5,622.0 678.3,622.8 680.7,622.7 681.4,626.0 682.3,627.6 683.1,628.8 684.9,630.9 686.2,629.0 689.2,629.8 690.1,631.6 690.9,633.8 690.7,635.4 691.8,636.0 693.1,638.3 694.7,641.2 696.4,638.3 697.5,637.2 698.9,638.4 699.8,640.2 701.2,641.5 702.4,644.9 704.6,645.9 707.7,647.2 708.9,646.1 711.3,648.9 714.5,649.7 715.9,653.1 716.9,652.5 720.1,650.6 721.6,650.8 723.6,651.3 725.2,652.1 725.8,654.0 728.2,655.1 730.1,656.9 732.7,656.7 734.8,658.2 736.6,659.0 738.9,659.7 741.4,659.3 743.1,660.0 745.1,660.1 748.0,660.6 750.8,660.6 751.2,660.8 753.1,661.0 757.0,660.0 757.5,661.7 760.4,661.8 763.5,662.7 765.2,662.8 768.2,663.0 769.4,663.5 771.7,663.6 773.9,662.9 775.5,662.3 779.5,663.2 781.4,663.3 783.6,663.6 784.7,663.4 787.9,663.3 790.8,663.3 792.3,665.1 794.9,663.8 795.9,665.1 798.7,664.1 800.4,665.4 802.5,664.9 806.5,665.0 808.6,664.8 809.3,664.9 812.4,666.0 814.5,666.5 816.4,665.2 817.9,665.1 820.5,665.9 821.9,667.0 825.0,666.5 825.8,667.1 828.7,665.9 829.9,667.4 833.0,667.4 834.0,665.9 836.8,666.0 838.2,666.4 840.7,666.4 841.8,667.3 844.5,667.7 845.2,666.0 848.4,666.7 850.8,666.7 851.1,666.7 853.5,667.4 856.6,667.6 857.2,667.0 859.4,667.8 861.3,667.2 864.4,666.3 866.2,666.2 867.1,666.5 869.2,666.9 872.4,667.9 873.5,667.0 876.4,666.7 877.6,666.8 880.7,666.8 882.5,666.4 883.6,666.7 885.5,666.4 887.8,667.7 890.3,668.1 891.6,666.7 893.5,667.1 895.2,667.7 897.8,666.2 900.0,667.0 901.4,666.8 904.3,668.2 906.2,666.7 907.1,666.9 909.5,667.1 911.9,666.8 913.3,668.1 916.9,667.7 918.9,667.4 920.5,667.2 922.3,668.0 924.4,667.9 926.2,667.0 928.6,668.1 929.5,666.7 931.0,666.8 933.4,666.7 935.3,667.0 937.3,668.3 939.1,666.4 942.8,667.2 944.5,667.0" fill="none" stroke="#ff0000" stroke-width="5.2" stroke-linejoin="round" stroke-linecap="round"/>
<polyline points="134.0,669.1 137.9,669.1 139.1,669.4 141.5,669.6 143.9,669.3 145.5,670.8 147.6,670.7 148.7,670.5 151.4,670.7 154.2,669.1 156.4,668.9 158.0,670.0 159.3,668.6 163.4,667.8 165.9,667.2 166.8,666.8 169.1,664.4 172.2,664.7 173.1,663.4 173.5,661.2 175.4,658.2 176.0,656.4 177.4,654.7 177.9,653.3 178.5,650.2 179.6,649.7 179.9,646.5 182.0,644.3 182.9,642.6 182.2,641.6 184.3,639.2 183.9,636.6 184.1,635.9 186.4,633.2 186.4,632.2 187.5,630.1 188.5,627.3 189.2,626.1 188.5,624.2 189.0,621.8 190.6,620.6 190.9,618.6 192.2,615.7 191.4,614.7 192.1,611.7 192.5,609.5 194.2,606.2 193.9,604.5 194.5,603.2 194.8,599.1 194.4,597.8 194.2,596.5 194.7,593.4 194.6,591.7 196.0,588.8 195.5,587.0 194.8,585.2 196.2,583.5 197.0,581.6 197.1,579.5 196.8,577.8 197.5,575.4 196.8,572.3 198.2,569.6 197.7,569.1 197.8,566.3 198.3,564.4 199.7,561.1 199.3,560.6 199.8,558.7 200.0,555.6 200.3,554.2 201.5,551.9 202.0,548.7 202.5,546.1 202.8,545.4 201.6,542.9 201.9,540.5 203.3,538.3 202.7,535.4 201.8,534.1 202.6,532.9 203.4,530.5 203.8,528.3 203.7,524.2 205.0,523.2 204.3,520.0 205.2,519.1 206.7,519.9 207.5,521.6 208.1,523.0 209.8,524.5 210.4,526.4 210.7,529.5 212.9,531.1 213.9,533.6 213.8,535.4 213.5,536.5 215.7,539.1 216.9,540.9 216.4,542.9 218.6,545.6 218.1,546.7 219.6,548.6 221.0,550.9 221.7,554.4 221.6,555.9 223.2,557.7 223.5,560.6 224.0,561.8 224.3,563.8 227.0,565.3 227.3,567.1 227.3,569.1 229.1,570.9 228.2,573.3 230.1,575.3 230.6,576.5 231.9,578.3 231.7,580.0 232.1,581.9 234.1,584.1 234.4,585.7 234.7,588.4 236.9,589.2 237.1,592.7 237.6,594.4 237.7,596.2 238.4,597.1 239.3,598.7 241.4,601.5 241.5,604.3 242.1,606.6 242.9,608.9 245.1,610.0 246.1,612.7 246.9,613.5 246.7,615.5 247.6,618.0 249.3,619.5 249.5,621.3 250.1,622.8 251.1,625.9 252.1,628.4 252.8,629.1 254.5,631.4 253.8,633.5 256.2,634.6 256.6,635.7 258.6,637.9 260.4,639.0 261.4,640.5 261.9,642.0 264.1,644.7 265.1,646.5 267.6,647.5 269.1,647.7 270.4,649.4 271.9,649.4 275.1,651.8 276.2,652.6 277.1,653.0 280.2,652.5 281.6,653.8 284.9,654.5 285.2,654.7 287.9,654.5 289.3,654.9 291.8,654.2 294.2,655.2 295.8,654.3 298.6,654.4 301.0,653.2 303.0,652.7 304.3,653.2 307.2,651.6 308.8,651.5 309.6,650.9 313.2,648.9 314.2,648.7 317.0,647.8 317.0,644.8 318.4,642.2 320.1,642.1 323.1,638.7 324.0,637.6 325.2,636.1 326.1,633.0 329.2,633.6 331.4,630.7 330.7,629.4 332.9,627.4 334.0,624.9 333.9,623.2 333.9,621.2 335.0,618.3 336.9,615.4 336.7,615.0 337.7,613.1 339.2,609.7 339.7,607.9 340.9,606.6 341.4,603.3 343.0,601.5 343.6,600.7 344.3,597.1 345.5,595.1 345.8,593.2 346.8,591.9 349.0,589.6 350.4,586.8 350.2,585.3 351.6,583.9 351.2,581.4 351.5,579.2 351.0,577.9 351.1,575.2 351.6,573.2 352.7,571.9 353.2,569.5 352.2,566.2 352.9,565.9 354.4,562.9 356.9,562.8 359.1,562.7 360.2,561.0 359.9,558.2 360.3,556.9 362.1,555.7 361.9,553.1 362.9,550.9 362.7,548.0 363.3,547.1 362.8,544.9 362.9,541.8 363.5,540.6 364.1,538.0 365.8,536.8 364.9,533.5 366.3,533.1 366.8,530.6 367.8,528.6 366.7,526.1 367.7,524.3 367.8,522.3 369.4,519.5 369.7,517.6 370.2,515.8 371.2,513.7 369.8,510.9 371.5,508.9 372.1,507.6 371.7,505.4 373.2,503.5 372.7,501.3 373.1,501.3 373.9,499.3 373.5,496.7 374.4,494.9 374.4,493.0 375.3,492.5 376.1,489.3 376.6,487.7 376.3,486.5 377.7,484.9 378.5,481.4 379.8,479.2 378.4,477.0 378.6,474.6 380.4,472.3 379.8,470.0 380.0,467.6 380.8,465.7 382.1,464.9 381.7,461.6 383.1,460.4 382.6,457.7 383.8,455.3 384.9,453.6 384.8,451.8 385.8,448.6 385.6,446.5 387.4,445.8 386.7,443.2 387.1,440.1 388.7,439.0 388.5,436.7 388.9,434.6 388.9,433.6 388.9,430.9 389.5,428.4 389.4,425.9 390.8,423.7 390.7,422.8 391.2,419.7 392.9,417.1 395.0,419.7 395.9,421.1 395.7,419.4 396.4,417.2 395.4,414.7 396.5,412.7 397.3,409.4 396.1,407.6 396.6,406.0 400.1,402.0 401.1,400.2 402.5,398.1 402.2,397.0 403.9,397.0 406.5,399.8 407.0,396.7 407.4,395.7 407.2,391.9 407.8,390.4 406.9,388.1 408.9,385.8 408.1,384.9 408.7,381.8 408.1,380.1 408.6,378.4 409.0,375.3 409.6,374.5 409.0,371.1 409.0,370.5 408.7,367.3 409.7,366.1 410.1,363.4 410.0,361.0 408.7,359.9 409.2,358.2 409.5,355.1 410.6,352.4 410.9,351.0 410.1,348.9 411.3,346.7 413.1,345.3 413.5,344.1 413.9,340.3 414.7,338.0 416.4,336.3 415.2,335.1 416.4,332.1 417.1,330.2 416.6,328.8 417.1,326.4 417.8,325.6 418.2,322.7 417.8,320.5 417.9,319.2 419.5,317.1 418.6,314.8 418.6,312.9 420.1,309.6 418.4,309.3 419.5,306.8 420.1,304.8 418.7,301.7 419.3,300.9 420.1,297.6 419.0,296.7 420.6,293.1 419.6,291.3 419.9,289.0 420.8,291.3 421.1,294.9 422.3,296.9 424.5,297.7 425.8,299.7 427.6,302.1 427.4,300.1 428.3,297.3 429.4,295.5 428.9,294.3 429.3,292.0 429.0,289.6 429.7,286.8 429.5,286.4 429.5,283.6 430.1,282.2 429.6,279.8 430.7,277.8 429.7,276.5 430.1,273.7 429.7,271.8 431.0,270.2 430.7,266.4 431.3,265.1 432.3,262.8 432.8,261.9 431.7,260.1 432.1,256.6 432.4,255.6 434.5,252.5 435.8,252.9 438.3,250.5 439.7,250.7 440.8,247.8 440.4,244.9 440.3,244.2 439.8,240.9 441.1,238.5 440.6,237.9 440.8,235.3 442.5,233.2 442.3,230.2 442.2,229.0 442.3,226.9 441.7,225.0 443.1,223.1 443.8,221.4 445.0,219.1 445.9,215.8 446.5,213.7 447.4,211.7 447.6,210.9 449.8,207.8 449.7,206.2 450.4,203.3 450.7,201.9 450.3,199.0 450.9,197.2 451.3,194.8 452.1,192.5 453.8,190.1 452.7,189.1 452.5,185.9 453.0,184.5 452.7,181.6 452.5,179.5 453.6,178.1 453.7,175.9 455.1,173.3 455.3,172.1 456.3,169.8 456.3,167.4 456.4,165.7 456.5,162.5 456.8,160.7 458.9,158.8 457.6,157.1 458.1,153.6 459.5,151.2 460.6,150.4 461.5,148.3 460.9,145.6 461.2,144.4 462.8,141.6 462.7,140.5 462.7,138.7 463.2,135.9 463.5,135.1 463.6,131.7 465.1,130.0 464.7,127.4 465.6,124.9 466.0,121.5 467.3,119.8 468.3,117.8 469.2,115.6 469.5,115.0 469.6,112.6 470.9,109.0 471.8,107.7 471.6,106.5 473.7,104.7 473.3,101.6 475.0,99.5 475.0,102.0 476.4,104.8 477.2,107.1 477.4,109.8 477.1,111.5 478.4,114.3 478.4,116.7 478.0,118.7 479.1,115.7 479.5,114.0 479.6,111.3 480.5,109.7 480.4,107.9 481.7,106.7 482.5,103.9 481.9,101.5 483.1,99.0 484.2,96.8 484.1,95.9 484.9,92.9 487.7,92.1 488.2,89.7 489.9,86.6 493.1,85.7 495.0,82.7 496.1,82.2 498.6,80.6 499.3,81.1 502.2,80.8 504.8,81.5 505.6,84.1 507.1,85.8 508.5,88.1 509.1,89.5 510.7,91.0 511.9,94.7 512.2,96.6 513.3,97.7 515.0,99.6 515.2,102.5 515.2,103.4 516.6,105.5 517.9,107.8 518.2,110.2 520.4,111.8 520.6,113.8 520.3,115.3 522.4,116.3 524.1,117.9 525.9,118.9 525.9,121.2 526.9,122.0 529.3,123.8 529.5,126.3 532.2,127.6 532.4,129.0 533.5,132.1 533.9,133.6 533.4,135.5 534.3,137.9 534.4,139.1 535.9,141.0 535.7,143.9 536.9,146.5 538.6,148.0 538.4,149.8 538.8,151.7 539.9,154.0 539.2,155.9 540.9,157.2 541.7,160.6 541.2,161.8 541.2,163.9 542.7,166.5 542.8,168.1 543.1,169.6 543.6,172.8 542.9,175.8 543.0,177.4 543.6,180.1 544.2,183.2 544.4,186.8 546.8,189.7 547.0,191.3 547.3,195.2 548.1,197.9 549.8,200.6 550.1,203.3 553.8,206.7 553.3,209.3 556.1,213.6 556.2,215.1 557.4,218.0 557.5,221.8 556.8,224.0 557.6,228.7 557.4,231.8 557.1,233.7 558.0,236.4 559.5,240.0 557.9,243.3 558.6,245.7 560.4,248.7 559.7,252.7 560.0,255.9 559.9,257.1 562.2,261.2 563.8,264.6 565.8,267.7 566.5,270.7 567.6,273.8 569.3,276.6 568.2,278.9 570.3,281.9 569.5,284.9 570.0,287.2 571.5,290.0 571.6,293.6 572.6,296.7 572.1,300.3 571.8,303.0 572.1,305.8 573.6,309.9 574.3,312.6 574.1,314.9 576.5,317.8 578.4,321.4 579.1,324.2 580.0,327.5 582.0,330.3 582.0,334.0 582.6,335.6 582.3,339.0 582.6,341.8 582.0,344.7 582.5,348.8 584.5,350.1 584.6,354.8 584.9,357.3 584.8,359.8 584.6,362.2 586.2,363.9 588.0,365.7 589.3,368.5 590.7,368.8 592.1,371.7 590.7,375.1 591.4,378.6 591.6,380.7 592.1,384.3 591.5,386.1 592.9,389.5 593.5,393.6 593.1,395.2 592.9,398.0 594.0,402.1 594.7,404.7 595.9,408.7 597.4,411.0 599.7,414.0 599.7,417.8 601.6,419.7 602.3,423.7 603.0,426.1 604.0,429.8 603.5,431.9 602.9,435.8 604.1,438.8 603.7,441.9 603.2,443.6 605.3,447.5 604.4,449.7 607.0,453.3 609.7,454.7 610.9,455.1 612.3,459.9 613.7,462.2 614.1,464.8 613.6,467.4 614.4,469.1 614.8,471.8 615.2,474.0 616.2,476.3 616.7,478.4 615.8,480.2 616.8,481.7 617.1,485.4 617.4,486.9 617.9,487.6 617.6,490.4 617.1,492.5 617.1,495.1 617.5,496.6 620.0,499.4 622.8,500.2 622.8,501.7 624.0,503.1 625.4,506.4 624.2,508.0 624.8,509.9 626.5,511.5 627.1,514.1 627.1,517.1 626.7,518.6 628.6,520.1 627.7,522.7 628.6,523.2 629.9,525.4 630.0,527.4 629.9,530.1 631.2,531.9 634.3,533.0 635.2,535.9 635.9,537.5 637.7,539.1 636.3,540.5 637.0,543.1 637.2,546.0 639.0,546.4 639.0,549.3 638.7,551.4 638.7,553.7 639.5,555.4 639.1,557.6 639.3,560.3 642.8,560.6 645.8,560.5 645.3,562.2 645.4,565.0 647.3,566.8 646.8,568.1 647.2,571.1 647.4,572.8 646.9,574.1 648.2,577.5 649.5,578.2 651.4,578.8 653.1,581.4 655.0,582.4 656.2,584.7 657.3,586.9 658.7,588.8 658.9,591.3 659.5,592.6 659.0,594.9 660.2,597.6 659.4,598.4 661.1,601.7 661.1,602.7 661.8,605.5 664.1,605.5 666.1,604.3 668.5,603.0 669.3,606.6 669.6,608.0 670.4,610.1 669.8,612.4 671.7,613.2 672.3,614.7 672.7,617.0 674.3,619.6 676.3,621.3 676.9,621.4 678.4,622.7 680.9,623.7 682.0,625.6 683.8,626.9 684.3,629.1 684.8,630.8 686.8,629.4 689.6,629.0 690.2,631.6 690.7,633.4 692.3,634.1 692.1,637.0 693.4,638.7 694.7,639.7 695.5,639.9 697.9,637.6 699.0,638.3 701.2,641.3 701.4,641.6 703.5,643.7 704.6,645.3 707.9,645.8 709.5,646.6 711.9,649.6 712.9,651.0 716.4,652.5 718.8,652.4 720.9,652.0 723.7,652.2 724.3,652.6 727.4,654.6 728.5,655.3 729.7,655.6 732.0,657.8 736.0,657.6 737.5,658.6 740.4,660.2 740.8,660.3 743.8,659.3 746.2,658.9 748.4,660.8 749.0,659.8 752.8,661.4 754.1,661.6 755.3,660.9 759.1,660.5 760.3,661.0 763.1,663.1 765.1,663.1 766.5,662.6 770.6,663.9 771.4,662.4 773.7,664.1 775.6,662.9 778.3,663.4 781.5,663.7 783.7,663.8 786.1,663.8 787.9,664.0 789.7,663.8 792.9,664.3 795.3,665.1 795.9,665.8 799.6,665.4 800.7,666.1 803.0,666.4 806.4,664.9 807.6,667.0 810.5,665.5 811.8,666.9 813.0,665.5 816.4,666.1 818.2,666.2 820.0,666.8 822.4,665.7 824.1,667.5 826.9,665.8 828.0,666.1 831.0,666.3 832.8,666.6 834.8,666.0 836.1,667.1 837.8,666.5 840.6,666.1 842.7,667.7 844.6,667.3 845.8,666.9 847.5,666.6 850.0,666.2 851.0,667.4 854.9,667.5 855.2,666.3 857.1,667.3 860.5,667.1 861.1,668.1 864.6,666.6 866.7,668.1 867.6,667.4 869.0,667.0 871.4,668.2 874.5,666.8 876.5,666.6 877.1,667.2 880.7,668.2 881.6,666.9 883.9,667.2 886.4,667.3 887.5,667.0 890.1,666.6 891.3,666.8 893.4,666.5 896.1,667.7 897.6,668.3 899.6,667.5 902.3,667.7 904.9,666.6 905.2,666.6 907.2,667.2 910.1,668.1 912.7,667.7 914.1,667.4 915.4,667.0 917.7,666.8 920.3,667.1 922.9,667.2 924.5,667.1 925.5,667.5 928.1,668.6 929.3,666.7 931.2,668.3 933.1,668.5 935.4,668.5 937.7,668.5 939.9,667.4 941.0,667.5 943.9,668.6" fill="none" stroke="#0000ff" stroke-width="5.2" stroke-linejoin="round" stroke-linecap="round"/>
<polyline points="135.0,671.2 137.0,670.7 139.4,669.7 141.4,670.8 143.2,669.7 144.7,670.1 148.4,670.2 149.1,670.2 152.2,670.9 153.0,670.1 154.9,669.7 157.8,669.4 159.3,670.6 161.5,669.8 163.5,668.0 165.7,668.6 167.6,666.7 170.5,666.0 173.0,664.5 173.2,664.1 175.8,662.6 176.6,661.5 179.1,658.2 179.5,656.1 181.9,654.3 181.6,652.4 182.6,651.2 182.9,649.2 184.5,646.5 186.0,644.8 185.9,643.6 186.1,639.4 186.7,637.4 187.1,636.7 188.9,632.9 189.0,631.4 189.1,629.2 189.5,628.6 191.0,625.9 192.4,624.0 192.3,622.4 193.1,619.7 194.3,617.1 194.8,615.2 195.5,613.2 196.3,611.5 197.1,609.5 196.4,608.1 197.5,606.4 198.4,603.0 198.7,601.0 199.8,600.1 199.5,597.5 198.8,595.2 199.7,592.7 201.4,590.7 200.8,588.5 201.8,586.0 202.4,583.9 201.7,582.3 202.4,579.4 204.0,577.1 203.6,574.8 203.8,573.4 206.2,574.1 207.3,576.4 209.7,579.2 210.2,580.2 210.5,581.4 212.7,584.1 212.8,585.9 213.8,587.6 212.8,589.8 213.4,592.3 213.9,594.3 215.3,595.9 214.9,597.6 216.0,600.7 217.9,601.7 220.1,602.6 220.9,604.4 222.1,605.4 222.6,607.0 224.4,609.4 224.9,611.7 224.6,613.1 225.6,615.5 226.0,618.7 227.8,619.3 228.1,623.0 229.0,624.9 229.8,626.2 229.3,627.5 231.8,629.8 232.1,632.3 232.9,633.4 233.6,636.6 235.0,638.2 236.4,639.3 237.1,641.4 238.7,643.3 239.4,644.8 241.7,646.2 242.4,648.9 244.2,650.3 244.4,652.3 247.4,652.4 248.1,655.3 250.4,656.4 251.4,657.9 254.2,657.9 256.1,659.8 257.0,662.1 258.5,661.5 262.0,663.3 262.6,664.1 264.3,663.6 267.7,663.9 268.7,665.1 270.9,665.8 272.3,666.6 274.9,667.2 276.4,666.1 279.9,667.5 282.0,667.7 282.9,666.8 286.8,667.8 287.9,668.4 289.7,668.5 292.6,666.6 294.8,666.8 295.8,665.7 297.6,666.1 300.2,666.5 302.0,665.5 305.1,665.5 306.7,665.3 308.7,664.9 310.8,663.1 312.7,663.7 314.9,662.5 315.7,662.3 319.3,662.4 320.9,661.1 322.0,659.5 325.1,658.3 326.3,657.8 328.1,658.3 329.3,656.8 332.6,654.5 333.0,653.4 334.5,652.1 337.3,651.7 338.3,649.1 339.6,646.8 340.8,644.7 341.9,643.0 343.3,641.2 344.6,638.8 345.8,637.4 347.9,635.4 349.8,635.2 349.8,633.7 351.5,631.5 351.9,629.7 352.4,626.8 353.8,624.3 354.6,623.5 354.4,621.0 355.5,618.6 357.3,616.5 358.4,615.0 357.5,611.8 359.7,610.7 360.0,607.3 360.2,605.8 361.5,604.6 361.7,602.4 363.1,599.8 364.2,597.4 364.7,595.4 365.4,593.8 365.2,592.5 366.0,590.3 366.9,586.8 367.1,585.1 367.3,582.6 368.8,581.5 369.6,579.2 368.9,578.1 370.9,576.0 370.9,572.8 372.4,570.4 372.1,568.4 372.2,568.0 373.8,565.1 372.8,563.1 374.9,561.7 373.8,558.5 375.1,556.0 375.4,555.0 375.7,553.3 377.5,550.3 377.0,549.1 376.7,546.7 377.8,545.3 378.2,543.3 378.9,539.8 379.3,538.4 379.3,536.4 381.4,534.2 383.1,533.0 383.1,530.0 383.7,527.2 383.5,526.1 385.7,524.2 384.5,521.1 385.0,520.9 385.5,518.6 386.6,515.1 387.7,513.7 386.4,512.5 388.1,508.8 388.1,507.5 388.2,505.7 389.9,503.6 389.1,502.1 390.4,498.3 391.3,497.7 391.7,495.7 391.6,491.7 392.8,490.8 393.4,489.2 393.2,485.3 395.1,483.2 395.6,481.9 396.5,479.6 397.8,477.2 397.9,475.2 396.9,474.6 397.3,470.7 399.8,469.7 401.4,468.5 402.4,465.7 405.0,462.9 404.8,461.1 405.7,458.5 404.4,457.9 404.4,455.7 405.1,453.6 405.9,451.6 406.7,448.5 405.2,446.7 405.4,444.8 407.5,442.4 406.8,439.5 407.9,437.7 408.1,436.5 408.0,433.6 408.5,431.9 410.5,428.4 410.6,425.8 408.9,424.1 409.7,421.5 409.9,419.3 410.1,418.0 410.1,415.6 411.5,413.4 410.2,410.8 410.4,408.8 411.8,407.6 411.5,404.2 412.2,403.4 412.5,400.1 413.2,397.4 414.4,394.1 415.2,393.5 416.4,391.2 417.5,388.1 418.5,387.1 417.2,383.6 417.2,381.8 418.4,379.7 418.8,377.0 417.8,375.8 418.6,373.7 419.5,371.9 418.4,368.9 418.5,368.2 420.5,366.3 419.7,364.1 420.1,360.7 419.3,360.0 420.3,357.7 420.2,355.0 420.0,353.4 420.6,351.4 420.8,349.7 420.2,348.0 420.5,345.0 420.8,342.1 422.0,344.2 424.4,346.5 424.9,349.4 425.5,350.8 424.5,353.7 425.7,356.0 426.1,358.1 424.5,359.5 426.0,362.3 425.8,363.1 425.2,365.0 425.4,367.6 425.7,370.4 425.9,367.9 426.4,365.2 426.4,363.4 427.9,361.6 427.5,358.9 427.4,358.1 427.1,355.6 428.8,353.4 428.1,350.7 429.0,349.5 428.2,346.8 429.7,344.2 430.1,343.3 428.9,341.9 429.4,339.2 429.8,336.2 429.8,334.1 430.7,333.7 429.6,330.2 430.6,328.8 430.7,327.0 432.1,323.9 430.6,322.5 431.8,321.0 432.1,319.2 433.6,317.2 433.0,315.3 434.0,312.9 435.1,309.3 436.0,308.8 435.9,306.6 436.0,304.2 436.7,301.7 437.5,299.8 438.4,297.7 437.1,296.2 438.3,294.4 438.2,290.4 437.2,290.1 438.4,286.9 438.9,284.1 438.8,282.2 437.3,281.3 439.3,277.6 439.3,277.5 440.1,274.7 440.5,273.2 440.2,271.4 439.9,267.9 440.7,267.3 440.6,264.1 441.7,263.5 442.2,261.4 441.7,258.2 442.2,255.8 444.1,254.1 443.6,252.4 443.2,251.4 444.7,249.3 444.2,246.6 446.6,244.8 447.0,242.8 449.2,240.5 450.0,237.4 450.0,236.3 449.6,234.4 449.8,232.5 450.7,229.0 450.9,228.2 451.3,225.4 451.8,222.2 452.1,220.6 453.0,217.9 451.8,216.9 453.5,213.2 452.7,212.6 453.2,209.5 454.0,208.5 454.4,204.7 454.3,204.4 455.2,201.5 455.7,199.7 454.8,197.8 455.6,194.9 456.1,191.8 456.1,190.6 457.5,188.3 457.1,187.1 457.7,184.6 457.9,181.7 458.8,179.6 457.8,178.8 458.8,176.5 459.5,173.4 459.8,171.7 460.3,169.9 459.9,167.5 461.8,166.1 461.3,164.7 461.7,163.0 463.7,160.4 463.0,159.1 464.0,155.5 464.4,155.1 465.4,153.0 464.9,151.3 466.5,148.3 467.1,146.4 467.2,144.7 469.6,143.0 470.9,141.3 472.1,139.2 471.8,135.8 472.0,133.9 472.5,132.0 472.4,130.1 473.9,127.1 473.9,125.8 475.5,122.8 476.6,119.6 477.0,119.2 479.2,116.3 480.1,115.7 481.8,112.7 482.4,111.7 483.6,108.8 483.9,108.6 484.9,105.3 484.9,104.8 486.0,101.9 486.4,100.0 486.6,97.9 489.0,97.0 488.4,94.7 490.6,91.8 491.0,90.6 492.5,89.0 495.0,86.5 496.7,85.9 497.5,83.6 499.4,82.0 501.3,79.6 502.8,82.3 502.2,83.4 503.1,86.4 502.0,89.0 503.2,90.8 502.7,93.0 502.2,94.1 503.3,96.6 502.7,97.9 502.6,101.5 502.4,103.3 503.2,105.0 503.2,108.2 505.7,108.9 506.6,110.7 507.8,113.2 508.1,110.8 509.3,109.4 510.5,108.0 512.7,109.1 512.9,111.4 512.4,114.0 514.1,117.6 514.0,119.9 515.4,120.6 516.6,123.9 516.9,125.4 518.4,128.4 517.7,129.9 519.7,132.6 518.5,134.8 520.0,136.8 519.8,139.0 521.0,139.6 521.0,141.3 523.4,144.0 524.6,145.6 527.9,146.6 528.1,148.9 530.0,150.9 531.4,154.1 532.5,155.5 532.0,157.5 533.5,159.3 533.0,162.8 535.2,164.9 535.6,165.7 535.6,168.9 536.2,169.8 538.2,173.1 538.4,173.7 541.2,175.7 542.0,179.0 542.2,179.3 542.4,181.4 542.6,184.0 541.7,186.4 539.7,187.5 539.6,189.9 542.2,191.2 542.8,193.0 545.5,195.4 543.5,196.9 541.9,200.1 543.6,201.4 544.0,204.2 544.7,206.1 547.5,207.6 546.6,208.6 546.0,211.2 545.4,213.9 546.6,214.7 547.5,217.5 548.7,219.4 548.0,220.9 550.7,222.9 549.7,223.3 548.9,226.0 547.4,227.1 550.4,229.5 550.9,230.4 553.1,233.0 554.3,234.5 554.2,238.8 555.4,241.1 555.9,243.4 555.5,247.0 556.6,250.8 557.6,252.7 559.0,256.3 559.2,259.5 560.1,262.6 561.6,265.1 563.2,268.7 564.4,270.8 565.9,273.1 565.3,277.8 566.2,280.2 567.2,282.9 567.5,286.3 567.8,288.5 569.9,292.4 569.8,294.5 569.1,297.3 571.3,301.9 570.5,304.3 571.0,307.7 571.3,310.7 571.3,313.6 573.4,317.0 574.4,318.3 576.6,322.0 577.2,324.3 578.0,328.6 578.8,331.4 578.5,334.2 578.6,336.0 579.3,339.2 581.7,343.9 581.9,345.6 582.3,349.5 583.6,351.9 584.4,355.1 585.2,357.4 585.0,360.1 585.5,364.6 587.2,364.9 588.4,366.6 589.0,370.4 589.1,373.9 588.6,375.7 588.9,379.8 590.0,382.3 589.9,384.6 589.1,387.8 590.0,390.9 591.1,393.5 590.9,396.2 592.8,401.0 592.2,402.5 592.9,405.8 595.0,409.8 596.1,411.6 599.2,414.3 600.6,418.9 601.3,420.4 601.0,424.6 601.1,426.5 601.6,430.5 601.9,432.4 600.9,435.6 602.4,439.0 603.1,441.5 603.0,444.1 602.5,447.1 604.7,451.9 605.5,452.1 606.6,453.4 608.6,454.8 610.5,456.8 610.4,460.4 611.9,462.8 613.6,465.6 614.4,468.3 615.0,470.2 615.2,473.9 614.5,475.1 615.4,477.6 615.0,479.3 615.7,479.9 616.5,483.7 616.4,484.6 617.0,487.8 617.5,489.4 618.1,489.8 618.2,493.7 618.5,494.1 618.7,497.6 620.9,497.9 624.5,500.5 623.8,501.8 623.6,503.2 625.6,506.5 625.8,509.0 625.5,510.9 626.7,511.0 626.7,514.5 627.2,515.6 628.5,517.9 627.8,520.1 628.1,521.7 629.3,523.0 628.7,525.4 629.5,527.9 629.5,530.8 631.1,530.8 634.0,533.0 634.8,535.1 635.9,536.1 637.2,539.7 637.3,541.3 638.1,542.1 638.3,545.7 639.2,547.4 638.8,549.6 639.7,552.1 640.1,554.5 639.4,556.5 640.2,558.6 640.6,560.2 643.5,560.0 646.2,561.1 645.5,562.5 646.7,564.6 647.4,566.1 646.2,568.0 648.3,571.0 648.7,572.7 648.9,574.3 648.5,577.1 649.9,577.4 651.3,579.6 653.4,580.7 656.4,583.0 655.6,584.5 657.3,585.9 657.6,587.7 659.6,591.2 659.8,593.1 659.8,593.7 661.1,596.5 660.3,598.7 661.8,600.3 660.3,603.2 661.9,604.3 663.7,605.7 666.0,603.7 668.1,604.4 668.8,605.9 669.1,608.6 670.3,610.3 670.3,611.9 670.4,613.9 672.4,615.1 672.8,617.7 674.9,619.9 676.1,621.9 677.3,620.9 679.4,622.5 681.5,623.8 683.3,626.5 683.9,627.0 684.2,628.5 684.9,630.8 688.1,630.0 689.8,629.1 690.3,632.2 691.0,632.3 692.2,635.3 691.8,637.1 694.0,638.5 693.8,641.2 696.5,640.2 697.9,637.8 698.9,640.6 700.5,641.9 702.0,642.2 703.8,644.2 703.2,647.3 706.6,646.3 709.1,648.2 711.7,649.3 712.6,650.3 714.9,651.3 714.7,654.2 719.2,653.3 722.3,652.9 722.8,652.4 725.1,653.4 726.6,654.5 729.1,655.5 731.3,658.0 732.1,657.8 734.3,658.1 736.5,659.2 738.8,660.1 742.1,660.4 744.6,661.2 746.5,660.4 748.2,661.6 750.8,661.9 751.6,662.3 753.9,662.3 755.3,662.1 758.8,663.2 761.1,662.3 762.8,663.2 764.4,663.0 768.4,663.2 770.1,663.0 771.4,663.2 774.0,663.5 775.4,665.2 778.4,663.9 780.2,663.9 782.8,664.7 784.6,665.2 786.9,665.5 789.4,665.5 792.5,664.9 795.2,666.0 796.3,665.7 798.8,667.1 801.7,665.4 804.1,666.6 806.3,666.0 807.5,667.8 810.6,667.2 811.9,666.5 813.7,667.1 815.8,667.2 818.3,668.1 820.3,667.9 821.2,667.5 823.7,666.7 825.6,668.3 829.0,667.5 829.2,667.8 831.3,667.6 833.2,667.9 835.6,667.4 837.4,667.3 840.5,668.5 841.4,667.1 844.1,667.5 845.3,668.4 848.2,667.7 850.8,668.0 852.2,668.1 854.6,668.9 855.3,668.1 858.4,668.7 860.6,667.2 861.3,668.7 863.6,668.9 866.0,668.2 867.7,667.2 869.8,668.5 871.4,667.7 874.1,668.4 876.2,667.5 878.6,668.1 881.0,667.6 881.1,668.9 884.9,667.8 885.9,668.5 888.2,668.6 891.0,669.3 891.0,667.5 894.1,668.0 895.4,668.4 897.7,669.3 901.0,669.2 901.8,669.1 904.0,667.4 906.4,669.0 907.4,668.7 910.5,667.9 911.7,669.1 914.9,667.8 916.0,668.1 918.7,669.2 919.5,668.5 921.8,668.2 924.6,667.7 925.4,668.9 928.0,668.4 929.5,668.2 932.0,669.3 934.7,669.0 936.1,668.9 938.2,669.4 940.6,669.2 942.5,668.7 943.9,668.5" fill="none" stroke="#ff00ff" stroke-width="5.2" stroke-linejoin="round" stroke-linecap="round"/>
<polyline points="609.0,474.0 611.0,482.0" fill="none" stroke="#000000" stroke-width="5.2" stroke-linejoin="round" stroke-linecap="round"/>
<polyline points="632.0,538.0 634.0,545.0" fill="none" stroke="#000000" stroke-width="5.2" stroke-linejoin="round" stroke-linecap="round"/>
<polyline points="598.0,436.0 597.5,446.0 600.0,442.0" fill="none" stroke="#ff0000" stroke-width="5.2" stroke-linejoin="round" stroke-linecap="round"/>
<polyline points="606.0,462.0 607.0,477.0 611.0,472.0" fill="none" stroke="#ff0000" stroke-width="5.2" stroke-linejoin="round" stroke-linecap="round"/>
<polyline points="617.0,497.0 618.0,520.0 621.0,512.0" fill="none" stroke="#ff0000" stroke-width="5.2" stroke-linejoin="round" stroke-linecap="round"/>
<polyline points="637.0,556.0 640.0,570.0 643.0,565.0" fill="none" stroke="#ff0000" stroke-width="5.2" stroke-linejoin="round" stroke-linecap="round"/>
<polyline points="627.0,530.0 630.0,544.0 633.0,540.0" fill="none" stroke="#ff00ff" stroke-width="5.2" stroke-linejoin="round" stroke-linecap="round"/>
<polyline points="648.0,582.0 653.0,592.0" fill="none" stroke="#ff00ff" stroke-width="5.2" stroke-linejoin="round" stroke-linecap="round"/>
<polyline points="537.2,169.7 537.2,171.4 538.6,172.0 540.0,172.8 542.3,176.0 543.3,176.3 544.8,179.7 545.4,181.9 544.3,182.8 544.7,185.9 546.1,187.3 546.6,190.2 545.6,192.2 546.0,194.6 546.8,196.2 547.0,197.8 548.4,200.7 548.8,202.3 551.1,203.8 551.8,205.5 553.0,208.5 553.5,208.8 555.4,212.0 554.9,212.9 557.4,216.0 557.7,217.0 557.5,219.8 558.6,221.3 558.1,224.0 558.5,225.3 557.1,228.5 557.9,230.0 558.4,231.0 557.4,233.9 559.2,236.1 559.2,237.7 558.8,240.8 558.5,242.0 559.9,243.8 558.5,246.3 559.0,248.9 559.4,250.9 559.1,253.2 560.7,254.3 560.1,257.7 559.4,258.2 560.0,260.9 561.6,261.5 562.7,263.1 564.3,265.1 565.7,267.2 565.3,269.5 566.9,270.1 567.0,273.9 568.3,275.8 567.2,277.6 568.2,279.4 568.9,281.6 568.8,282.3 569.9,284.1 569.3,287.7 569.7,288.9 571.3,291.7 571.0,293.5 570.5,295.3 571.7,296.5 570.9,299.3 570.6,302.2 572.1,302.5 571.4,305.5 570.6,308.2 571.5,309.1 571.4,311.0 573.2,314.6 574.2,314.6 576.2,318.0 576.6,319.7 577.4,321.8 580.2,322.5 580.2,324.7 579.8,326.3 580.4,328.1 580.9,330.5 580.9,334.1 581.6,334.7 580.3,337.6 580.3,339.3 580.6,341.6 581.4,343.5 582.0,345.2 581.4,347.3 581.1,349.0 581.5,351.5 581.1,354.5 582.8,356.7 583.0,356.9 582.9,360.6 583.4,362.5 583.5,364.2 584.3,364.8 586.9,366.2 588.9,366.1 590.1,368.6 590.8,369.9 590.6,371.5 591.1,374.7 590.3,375.8 590.8,378.8 590.1,381.2 592.1,383.0 591.5,384.2 592.0,385.5 590.7,388.8 591.1,390.1 590.8,393.2 592.5,394.8 591.0,397.2 592.4,398.5 591.4,400.5 591.7,402.2 593.2,405.5 592.4,406.7 592.9,409.0 594.6,411.2 595.5,412.4 597.5,414.6 598.3,415.9 600.5,418.5 601.3,420.1 600.8,423.0 600.7,424.1 600.7,425.3 602.3,428.4 601.7,431.0 601.1,432.1 603.2,435.1 602.4,437.0 603.4,438.4 601.8,441.3 602.9,443.5 603.3,444.3 602.2,447.0 603.2,448.6 603.8,450.8 605.9,451.6 606.2,453.7 608.4,456.3 611.3,457.9" fill="none" stroke="#008000" stroke-width="5.2" stroke-linejoin="round" stroke-linecap="round"/>
<polyline points="134.6,672.2 138.1,672.2 139.8,670.7 142.2,670.6 143.2,670.7 144.9,672.3 148.0,672.1 149.7,671.0 152.7,672.2 154.7,672.0 157.0,671.7 159.3,671.7 159.6,670.5 162.2,669.7 165.4,670.2 166.5,668.0 167.6,666.8 169.7,666.4 173.0,665.7 174.2,665.4 177.1,663.5 177.5,660.9 178.9,658.6 181.1,657.4 181.5,655.7 182.1,653.8 184.6,652.7 185.1,649.5 186.6,649.2 186.9,646.0 187.7,644.2 190.3,642.4 190.6,639.5 192.0,638.2 192.4,635.2 193.4,634.1 194.9,631.2 195.2,628.6 194.5,626.8 195.7,625.2 196.5,622.2 195.8,620.0 196.4,618.8 198.5,617.2 198.7,614.6 198.2,613.3 199.5,611.4 199.9,607.7 199.7,607.0 200.7,604.4 202.4,602.4 204.5,601.7 203.9,604.0 205.9,604.5 207.5,607.2 207.8,609.1 209.2,610.8 211.4,612.2 211.5,614.5 213.2,616.6 213.7,618.0 214.5,620.7 215.5,623.3 215.2,624.6 216.6,627.3 216.2,628.5 218.2,629.7 220.5,632.2 221.7,632.6 223.2,635.1 224.6,637.6 226.3,638.3 227.8,641.3 227.6,641.4 228.7,643.7 229.9,647.2 230.1,647.9 231.1,649.7 233.6,652.0 235.5,653.0 236.9,654.2 238.4,655.7 240.7,658.0 242.2,659.9 243.9,659.9 245.5,662.6 247.7,663.1 249.9,664.3 250.4,665.4 253.3,665.7 253.9,666.7 257.4,667.2 259.0,667.1 259.6,668.8 262.0,668.6 264.9,668.5 266.9,668.5 267.9,668.7 271.1,670.4 272.8,670.1 275.9,669.8 277.8,671.1 279.8,670.9 281.2,670.3 284.4,669.2 285.8,670.2 288.4,669.9 290.9,670.3 293.0,670.5 294.2,670.5 296.4,668.7 298.4,669.7 299.8,670.0 302.7,670.2 304.3,669.3 306.6,669.7 308.8,668.3 311.0,668.4 312.1,668.3 315.1,668.0 317.5,668.6 318.0,669.2 321.6,669.2 322.8,668.0 325.7,667.3 327.2,667.6 329.2,667.0 332.6,666.7 333.9,665.4 336.0,664.6 338.0,663.4 340.9,661.8 343.2,660.9 343.9,659.2 345.3,658.4 347.2,655.5 348.8,655.5 350.3,652.3 351.9,651.8 354.0,649.7 354.7,648.7 357.1,648.2 357.7,644.4 358.6,642.2 359.8,641.4 360.1,638.6 362.0,636.1 362.5,634.7 364.4,633.2 363.9,630.6 366.0,628.7 366.6,626.6 368.9,624.7 369.7,622.3 369.7,621.1 370.4,619.4 371.0,617.1 372.9,613.6 372.5,611.8 373.6,611.2 374.6,608.3 374.6,605.9 374.8,604.9 375.5,602.5 376.4,600.1 378.5,598.1 379.4,595.3 380.1,594.8 380.9,591.5 380.6,590.7 381.6,588.1 380.8,585.2 381.5,583.1 382.8,581.0 383.3,580.5 383.3,576.6 385.1,576.3 385.6,574.3 388.2,571.3 387.4,569.3 388.4,566.7 389.4,565.4 389.2,564.1 388.7,560.9 389.4,559.5 391.0,556.1 389.6,554.3 390.9,553.4 392.0,551.0 391.3,549.0 392.3,545.7 392.9,544.5 394.8,543.0 396.1,539.6 395.3,537.8 396.0,537.0 396.8,534.4 395.8,532.1 397.2,529.6 397.1,528.0 397.0,526.0 397.8,524.9 398.9,522.0 399.6,520.2 399.7,518.1 400.8,515.9 400.2,514.3 401.0,511.4 402.2,510.0 401.2,507.7 403.4,505.4 405.4,502.9 405.4,502.5 406.6,499.8 407.7,498.0 407.5,496.0 406.7,493.6 406.6,490.4 408.2,489.5 408.8,486.0 408.1,483.6 407.5,482.5 407.5,479.0 409.3,477.6 409.0,475.6 409.0,473.8 410.6,472.4 409.1,469.4 410.0,468.0 411.5,466.6 410.0,463.0 412.1,462.1 412.3,459.1 411.0,457.7 411.3,454.8 412.1,452.7 413.0,451.7 413.9,449.8 414.8,446.9 415.6,445.3 416.8,442.2 415.7,441.0 417.4,439.1 415.9,435.9 415.9,433.5 416.3,431.3 416.2,429.2 418.1,428.0 417.6,425.1 417.2,424.3 418.7,421.5 417.4,419.5 418.8,417.9 419.4,416.4 418.3,413.9 419.2,410.9 419.7,408.6 419.7,406.7 420.5,403.5 421.3,401.6 421.6,400.4 422.1,396.6 422.2,394.6 423.4,396.1 425.4,398.8 426.8,401.0 427.0,397.9 428.1,395.6 429.1,395.1 430.0,391.5 430.0,390.0 428.8,389.1 429.6,385.3 429.7,384.4 430.8,381.2 430.6,379.3 429.3,377.2 430.5,376.4 430.8,373.3 430.6,371.8 430.2,369.7 431.3,367.1 430.1,364.9 430.9,362.7 430.8,361.9 430.7,358.6 430.6,357.9 431.3,355.9 430.8,354.3 430.1,351.4 430.8,348.4 431.3,347.4 430.7,345.8 431.6,342.6 431.2,341.2 432.4,338.0 431.7,336.8 433.3,334.9 432.7,332.9 433.0,330.2 433.0,328.0 435.6,330.2 435.8,333.0 436.0,334.2 436.9,337.0 438.0,335.3 440.6,331.9 441.6,331.3 440.2,328.9 440.7,326.3 440.8,325.6 441.0,322.5 440.6,321.3 441.0,318.0 441.0,317.1 440.9,314.2 441.9,311.9 442.1,311.2 441.3,309.0 442.3,307.0 441.7,303.3 443.4,301.5 443.6,299.4 443.5,298.5 442.2,296.4 442.9,294.0 442.3,291.4 442.8,288.4 442.6,287.8 442.7,285.7 443.3,282.4 444.1,281.0 444.0,278.2 444.8,275.9 444.3,275.4 444.7,272.5 446.3,269.9 444.8,268.6 446.3,266.9 447.2,264.4 447.0,262.7 446.0,261.1 446.5,257.6 446.8,256.8 448.8,258.4 447.5,259.6 448.1,262.1 448.6,265.7 449.6,266.3 451.1,268.9 449.7,270.5 450.3,269.6 451.3,267.3 451.8,265.5 451.8,263.0 450.8,260.3 451.8,258.1 451.2,256.6 451.1,254.9 451.4,251.8 451.5,249.7 452.0,247.6 451.5,246.3 451.3,243.6 452.0,241.8 452.5,240.0 452.8,237.4 453.3,235.2 454.6,233.3 453.6,232.9 455.0,229.2 454.6,227.0 455.6,224.9 455.9,223.9 456.7,220.3 456.5,218.8 457.9,216.2 459.0,213.8 459.5,211.2 461.0,210.3 461.3,208.5 462.4,206.2 461.5,203.2 462.2,201.6 461.4,199.2 462.8,198.6 461.6,195.5 462.0,194.1 461.5,191.3 462.8,190.9 461.5,188.0 462.8,185.7 463.2,183.1 463.0,181.6 463.0,180.3 463.8,178.3 462.6,175.0 463.6,174.4 463.3,171.3 465.0,169.6 467.3,168.8 467.1,169.6 468.2,172.7 470.2,175.4 470.3,172.7 469.9,171.0 471.0,167.4 471.5,165.9 470.3,163.3 471.3,161.9 472.0,158.8 471.3,157.8 471.1,155.3 473.3,152.2 473.6,151.6 474.2,149.1 474.4,147.3 475.3,143.5 477.4,142.9 478.4,139.7 478.3,139.2 478.9,136.5 480.3,135.0 481.6,131.3 481.0,130.3 482.1,128.4 482.6,126.5 482.4,123.7 481.9,122.3 482.1,120.4 481.8,118.0 482.2,116.5 483.3,113.0 483.3,112.6 484.5,109.7 484.4,107.0 483.8,104.7 485.8,103.6 485.1,105.3 485.9,107.1 487.2,110.1 488.1,111.0 486.7,114.2 488.3,115.7 488.8,118.7 489.6,119.1 488.2,121.3 488.6,120.0 490.3,118.6 490.5,114.8 488.9,113.6 490.7,112.1 490.9,109.7 490.3,108.0 490.7,105.2 491.2,102.6 490.6,101.5 492.1,97.8 492.3,95.2 494.2,96.2 495.7,94.3 497.9,94.0 498.9,91.7 501.3,89.3 502.7,88.4 502.7,86.0 505.1,84.4 506.0,86.6 505.4,88.7 506.4,89.9 507.5,91.9 509.0,95.1 510.3,96.3 511.1,95.7 509.7,93.1 510.9,90.5 511.0,90.0 512.3,86.0 511.6,85.4 513.8,82.8 514.1,80.3 513.5,79.7 514.4,81.6 515.7,83.6 515.6,84.7 515.3,86.6 517.2,88.8 517.2,90.9 517.0,94.2 518.5,94.5 518.8,97.8 518.3,99.6 518.1,101.7 518.5,103.9 519.2,106.8 519.9,107.9 518.5,110.9 519.8,112.0 519.8,115.5 521.6,114.4 525.2,116.1 526.4,118.1 525.6,120.9 527.9,123.0 527.8,124.6 527.7,125.4 529.7,127.4 531.5,130.1 532.0,133.1 533.4,135.4 534.3,137.4 535.1,138.9 535.1,141.1 535.9,142.8 535.7,146.1 536.5,147.3 537.8,150.9 536.3,152.2 537.2,155.1 537.4,157.2 538.3,157.8 539.0,159.9 538.6,163.4 539.5,163.9 538.5,167.0 538.4,170.0 541.5,169.6 541.8,172.2 544.0,173.1 545.7,175.4 546.4,177.6 546.3,179.1 546.4,182.0 546.7,182.6 548.1,185.2 548.9,186.8 548.6,189.5 547.8,191.7 547.9,194.8 549.3,195.2 549.3,198.3 551.2,199.2 552.0,202.7 554.0,203.5 553.9,205.2 556.5,206.8 556.2,208.5 557.4,212.2 558.5,212.7 558.2,216.1 559.8,217.1 559.6,219.4 561.1,221.3 560.1,224.2 559.6,225.4 561.3,227.4 560.3,230.4 561.1,232.2 560.8,233.4 561.2,236.8 560.9,237.9 562.1,239.7 560.8,242.1 562.5,244.4 561.4,246.0 561.9,249.3 561.5,250.8 563.3,253.4 562.6,255.7 562.3,256.0 562.5,258.6 563.8,260.4 563.6,262.2 565.7,264.8 566.7,265.2 568.0,266.4 567.9,269.3 568.8,270.7 570.0,272.3 569.3,274.2 571.2,277.3 570.6,278.0 571.3,280.2 572.2,284.0 571.7,284.7 571.6,287.8 572.0,288.9 572.3,290.5 574.3,292.9 572.7,294.4 572.8,297.2 574.1,298.7 573.0,300.8 574.9,304.0 574.1,304.7 573.7,306.5 574.0,308.7 574.6,312.1 575.2,313.3 576.3,315.1 579.0,316.6 578.5,320.2 581.2,321.9 580.9,323.1 582.3,325.1 584.0,327.1 584.2,328.9 583.5,330.6 582.8,332.2 582.7,334.8 584.6,337.6 584.1,338.6 583.3,341.9 584.7,342.5 585.1,345.7 583.9,348.5 584.7,350.0 584.8,351.3 585.4,354.3 584.1,355.7 585.1,358.4 585.8,360.8 584.8,361.1 585.0,363.3 588.1,364.5 588.9,365.7 590.6,366.8 592.2,367.1 594.0,371.0 592.7,371.8 593.4,373.7 593.7,375.4 594.4,379.0 593.3,379.8 594.6,383.3 593.1,383.6 593.7,386.6 594.5,388.8 594.5,391.2 595.0,391.7 594.4,393.7 594.4,397.3 593.6,398.0 594.3,399.9 594.6,402.4 594.3,404.0 594.6,406.5 596.2,408.1 598.5,411.3 598.5,412.8 599.3,415.2 602.0,417.0 601.9,417.9 603.3,420.0 603.7,422.9 603.9,424.7 604.8,426.2 603.5,428.4 603.6,431.3 603.7,431.5 604.3,434.8 605.6,435.5 604.9,438.8 604.9,441.6 605.1,442.4 606.3,445.6 606.4,446.3 606.6,448.6 605.4,450.7 608.5,452.9 610.4,454.0 611.6,456.1 612.8,456.6 614.4,459.7 614.5,461.2 613.9,463.1 615.7,464.4 615.6,467.9 615.7,468.6 616.4,470.0 616.9,473.3 615.6,475.0 616.3,477.2 616.1,478.3 618.0,480.3 617.2,482.4 618.0,485.0 618.2,487.7 617.5,489.2 619.0,490.8 618.4,492.6 618.5,495.3 619.9,498.0 621.0,499.5 624.5,500.0 624.8,501.9 625.7,505.3 625.8,506.6 626.1,507.9 625.8,510.4 626.2,512.8 627.5,514.1 628.1,515.8 628.7,517.6 627.8,520.4 628.3,523.3 629.2,525.4 628.9,526.7 629.4,528.6 631.2,530.8 633.0,532.0 634.2,533.5 634.8,534.9 636.7,536.0 637.4,538.7 638.6,541.5 638.4,542.9 639.6,544.6 638.4,548.2 638.8,550.6 638.6,552.4 640.4,554.9 640.5,555.5 640.4,557.8 641.6,560.7 643.5,561.0 647.2,561.0 647.1,561.9 646.9,564.3 647.0,567.2 648.2,569.3 648.4,571.3 647.6,572.0 649.5,575.0 648.7,578.0 651.0,577.8 653.0,579.0 654.3,581.0 656.6,583.7 657.0,585.4 657.9,585.9 658.4,589.3 658.9,589.8 660.5,592.6 660.8,595.7 661.5,596.3 660.9,599.5 661.1,602.3 661.3,604.2 662.0,606.0 664.8,605.1 667.4,604.3 668.8,603.9 670.4,606.8 670.5,608.7 670.9,610.5 671.4,611.8 671.9,614.9 672.9,617.0 674.5,617.8 674.4,620.1 676.8,621.8 677.2,623.5 680.0,622.9 680.8,624.9 683.2,627.4 684.6,629.0 685.6,630.3 686.6,632.3 688.0,630.4 690.0,631.5 691.4,632.6 691.9,635.0 691.8,636.7 692.6,638.4 692.7,640.5 695.1,642.3 696.7,641.1 698.4,638.3 699.4,641.3 700.7,642.4 702.6,644.0 703.9,647.2 703.5,647.9 707.0,648.2 710.4,649.2 711.0,650.7 712.9,652.5 713.7,653.8 716.1,655.9 718.1,654.6 721.5,654.9 724.0,655.4 724.5,655.8 725.9,656.2 728.8,658.2 730.1,658.1 732.2,659.9 735.4,660.2 738.0,661.3 738.7,661.0 742.5,663.0 743.5,661.5 746.0,663.2 747.2,662.3 750.4,662.5 752.4,662.9 753.4,663.8 755.2,664.3 759.2,663.4 760.5,663.6 763.5,665.4 766.0,666.0 766.4,666.0 770.3,665.9 771.3,665.3 774.5,665.4 775.5,667.0 778.5,666.6 780.1,666.4 782.9,667.5 784.7,667.6 787.0,667.6 789.7,666.4 792.7,667.0 795.3,668.2 797.1,668.4 799.0,667.1 800.3,667.3 802.9,669.0 806.1,668.5 807.7,669.3 809.6,669.6 812.2,668.4 814.5,668.2 816.2,669.2 817.2,669.2 820.5,669.4 821.2,668.9 823.6,670.0 825.0,670.2 828.7,670.0 830.7,668.7 832.0,670.4 834.8,670.4 836.0,669.1 837.3,669.7 839.7,670.6 842.5,669.3 844.3,669.6 845.1,669.2 848.8,669.9 850.4,669.4 852.3,669.1 853.7,669.0 856.8,670.8 858.0,670.0 860.7,670.2 861.6,671.0 863.2,670.2 865.8,670.0 868.2,670.0 869.5,670.2 872.8,670.5 874.5,671.0 876.5,670.7 878.6,671.1 880.2,669.3 881.9,669.5 884.2,670.8 886.6,669.4 887.1,670.9 890.8,669.8 892.3,671.2 894.6,669.2 896.0,671.2 897.9,670.0 900.6,670.1 901.9,670.5 904.6,670.1 906.3,669.8 907.6,669.4 910.0,669.8 912.1,671.0 914.6,669.6 916.3,670.0 918.1,670.2 919.8,669.4 922.3,670.7 923.9,671.0 926.5,671.3 927.3,669.5 929.7,670.8 932.4,670.9 933.9,670.2 936.1,671.2 938.5,669.8 939.1,669.9 941.9,671.0 943.8,671.3" fill="none" stroke="#008000" stroke-width="5.2" stroke-linejoin="round" stroke-linecap="round"/>
</g>
<g font-size="28.5" fill="#000" stroke="#fff" stroke-width="0.35">
<text transform="translate(122,682.1) scale(0.97,1.04)" text-anchor="end">0.0</text>
<text transform="translate(122,563.4) scale(0.97,1.04)" text-anchor="end">0.2</text>
<text transform="translate(122,444.7) scale(0.97,1.04)" text-anchor="end">0.4</text>
<text transform="translate(122,325.9) scale(0.97,1.04)" text-anchor="end">0.6</text>
<text transform="translate(122,207.2) scale(0.97,1.04)" text-anchor="end">0.8</text>
<text transform="translate(122,88.5) scale(0.97,1.04)" text-anchor="end">1.0</text>
<text transform="translate(179.1,708.6) scale(1,1.04)" text-anchor="middle">400</text>
<text transform="translate(397.8,708.6) scale(1,1.04)" text-anchor="middle">500</text>
<text transform="translate(616.6,708.6) scale(1,1.04)" text-anchor="middle">600</text>
<text transform="translate(835.3,708.6) scale(1,1.04)" text-anchor="middle">700</text>
</g>
<rect x="730.5" y="34.5" width="190.3" height="154.5" fill="#fff" stroke="#666" stroke-width="1"/>
<g font-size="24.2" fill="#000">
<line x1="734.6" y1="50.8" x2="789.8" y2="50.8" stroke="#000000" stroke-width="4.6" stroke-linecap="round"/>
<text transform="translate(795.5,57.9)" stroke="#fff" stroke-width="0.45">G-QD 2</text>
<text transform="translate(880.4,55.0) skewX(-8)" font-size="23" font-style="italic" font-family="Liberation Serif" stroke="#fff" stroke-width="0.5">&#956;</text>
<text transform="translate(892.2,56.9) scale(0.5,1)" font-size="22" font-weight="bold" fill="#222">m</text>
<line x1="734.6" y1="81.1" x2="789.8" y2="81.1" stroke="#ff0000" stroke-width="4.6" stroke-linecap="round"/>
<text transform="translate(795.5,88.2)" stroke="#fff" stroke-width="0.45">G-QD 4</text>
<text transform="translate(880.4,85.3) skewX(-8)" font-size="23" font-style="italic" font-family="Liberation Serif" stroke="#fff" stroke-width="0.5">&#956;</text>
<text transform="translate(892.2,87.2) scale(0.5,1)" font-size="22" font-weight="bold" fill="#222">m</text>
<line x1="734.6" y1="111.4" x2="789.8" y2="111.4" stroke="#0000ff" stroke-width="4.6" stroke-linecap="round"/>
<text transform="translate(795.5,118.5)" stroke="#fff" stroke-width="0.45">G-QD 6</text>
<text transform="translate(880.4,115.6) skewX(-8)" font-size="23" font-style="italic" font-family="Liberation Serif" stroke="#fff" stroke-width="0.5">&#956;</text>
<text transform="translate(892.2,117.5) scale(0.5,1)" font-size="22" font-weight="bold" fill="#222">m</text>
<line x1="734.6" y1="141.7" x2="789.8" y2="141.7" stroke="#ff00ff" stroke-width="4.6" stroke-linecap="round"/>
<text transform="translate(795.5,148.8)" stroke="#fff" stroke-width="0.45">G-QD 8</text>
<text transform="translate(880.4,145.9) skewX(-8)" font-size="23" font-style="italic" font-family="Liberation Serif" stroke="#fff" stroke-width="0.5">&#956;</text>
<text transform="translate(892.2,147.8) scale(0.5,1)" font-size="22" font-weight="bold" fill="#222">m</text>
<line x1="734.6" y1="172.0" x2="789.8" y2="172.0" stroke="#008000" stroke-width="4.6" stroke-linecap="round"/>
<text transform="translate(795.5,179.1)" stroke="#fff" stroke-width="0.45">G-QD 10</text>
<text transform="translate(895.1,176.2) skewX(-8)" font-size="23" font-style="italic" font-family="Liberation Serif" stroke="#fff" stroke-width="0.5">&#956;</text>
<text transform="translate(906.9,178.1) scale(0.5,1)" font-size="22" font-weight="bold" fill="#222">m</text>
</g>
<text x="382.5" y="769" font-size="43.5" fill="#000">Wavelength(nm)</text>
<text transform="translate(42.3,517.5) rotate(-90) scale(1,1.01)" font-size="43.1" fill="#000">Normalized Intensity</text>
</svg>
</body></html>
